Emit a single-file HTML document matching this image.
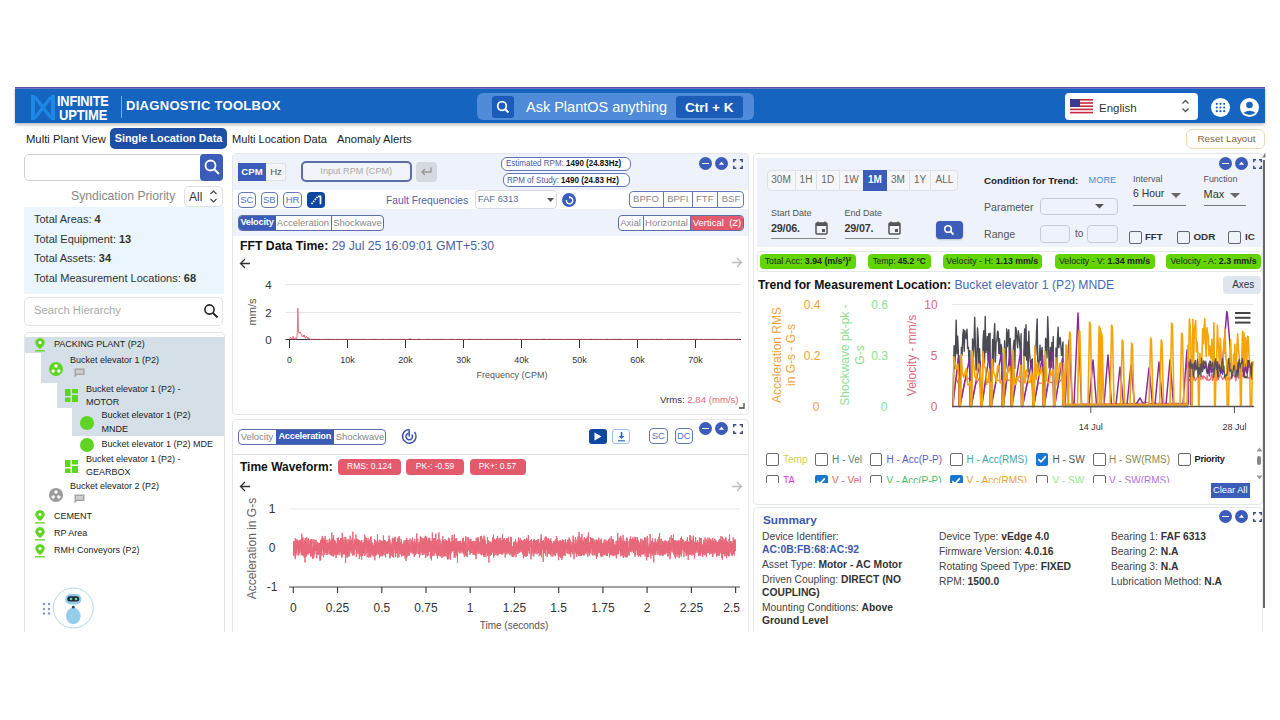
<!DOCTYPE html>
<html><head><meta charset="utf-8">
<style>

*{box-sizing:border-box;margin:0;padding:0}
html,body{width:1280px;height:720px;overflow:hidden;background:#fff}
body{font-family:"Liberation Sans",sans-serif;color:#222;position:relative}
.a{position:absolute}
.t{position:absolute;white-space:nowrap;line-height:1}
/* header */
#hdr{left:15px;top:87px;width:1250px;height:36px;background:#1565c0;border-top:1px solid #5a4f9e;box-shadow:0 2px 3px rgba(0,0,0,.25)}
.bold{font-weight:bold}
.pnl{position:absolute;background:#fff;border:1px solid #e3e6ea;border-radius:4px}
.btn{position:absolute;display:flex;align-items:center;justify-content:center;white-space:nowrap;line-height:1}
.circ{position:absolute;width:13px;height:13px;border-radius:50%;background:#3b5cb8}

</style></head>
<body>
<!-- HEADER -->
<div id="hdr" class="a">
  <div class="a" style="left:0;top:0;width:1250px;height:1px;background:#6c74c4"></div>
  <svg class="a" style="left:15px;top:6px" width="26" height="27" viewBox="0 0 26 27">
    <g fill="none" stroke="#1e88e5" stroke-width="4">
      <path d="M3 1 V26 M23 1 V26"/>
      <path d="M5 3 L21 24 M21 3 L5 24" stroke-width="3.2"/>
    </g>
  </svg>
  <div class="t bold" style="left:42px;top:4.5px;font-size:15.5px;color:#fff;transform:scaleX(.82);transform-origin:0 0;letter-spacing:-.2px">INFINITE</div>
  <div class="t bold" style="left:44px;top:18.5px;font-size:15.5px;color:#fff;transform:scaleX(.84);transform-origin:0 0;letter-spacing:-.2px">UPTIME</div>
  <div class="a" style="left:106px;top:8px;width:1px;height:22px;background:#64b5f6"></div>
  <div class="t bold" style="left:111px;top:11px;font-size:13px;color:#fff;letter-spacing:.3px">DIAGNOSTIC TOOLBOX</div>
  <div class="a" style="left:462px;top:5px;width:277px;height:27px;background:#4f8bd8;border-radius:6px"></div>
  <div class="a" style="left:477px;top:8px;width:22px;height:22px;background:#1a5cb8;border-radius:3px"></div>
  <svg class="a" style="left:481px;top:12px" width="14" height="14" viewBox="0 0 14 14"><circle cx="6" cy="6" r="4.3" fill="none" stroke="#fff" stroke-width="1.8"/><path d="M9.2 9.2 L12.5 12.5" stroke="#fff" stroke-width="2"/></svg>
  <div class="t" style="left:511px;top:12px;font-size:14.5px;color:#fff">Ask PlantOS anything</div>
  <div class="a" style="left:661px;top:8px;width:67px;height:22px;background:#1a5cb8;border-radius:3px"></div>
  <div class="t bold" style="left:670px;top:12.5px;font-size:13.5px;color:#fff">Ctrl + K</div>
  <div class="a" style="left:1050px;top:5px;width:133px;height:27px;background:#fff;border-radius:4px"></div>
  <svg class="a" style="left:1055px;top:11px" width="23" height="15" viewBox="0 0 23 15">
    <rect width="23" height="15" fill="#fff"/>
    <g fill="#c62a3c"><rect y="0" width="23" height="1.6"/><rect y="3.2" width="23" height="1.6"/><rect y="6.4" width="23" height="1.6"/><rect y="9.6" width="23" height="1.6"/><rect y="12.8" width="23" height="1.6"/></g>
    <rect width="10" height="8" fill="#3c3b8e"/>
  </svg>
  <div class="t" style="left:1084px;top:14.5px;font-size:11.5px;color:#333">English</div>
  <svg class="a" style="left:1166px;top:10px" width="9" height="16" viewBox="0 0 9 16"><path d="M1.5 5.5 L4.5 2.5 L7.5 5.5 M1.5 10.5 L4.5 13.5 L7.5 10.5" fill="none" stroke="#555" stroke-width="1.3"/></svg>
  <div class="a" style="left:1196px;top:10px;width:19px;height:19px;border-radius:50%;background:#fff"></div>
  <svg class="a" style="left:1200px;top:14px" width="11" height="11" viewBox="0 0 11 11"><g fill="#1565c0"><circle cx="1.8" cy="1.8" r="1.1"/><circle cx="5.5" cy="1.8" r="1.1"/><circle cx="9.2" cy="1.8" r="1.1"/><circle cx="1.8" cy="5.5" r="1.1"/><circle cx="5.5" cy="5.5" r="1.1"/><circle cx="9.2" cy="5.5" r="1.1"/><circle cx="1.8" cy="9.2" r="1.1"/><circle cx="5.5" cy="9.2" r="1.1"/><circle cx="9.2" cy="9.2" r="1.1"/></g></svg>
  <svg class="a" style="left:1225px;top:10px" width="19" height="19" viewBox="0 0 19 19"><circle cx="9.5" cy="9.5" r="9.5" fill="#fff"/><circle cx="9.5" cy="7" r="3.3" fill="#1565c0"/><path d="M3.5 14.8 Q9.5 10.5 15.5 14.8 Q9.5 19 3.5 14.8Z" fill="#1565c0"/></svg>
</div>

<!-- NAV -->
<div class="t" style="left:26px;top:133.5px;font-size:11.25px;color:#222">Multi Plant View</div>
<div class="btn" style="left:110px;top:128px;width:117px;height:21px;background:#1e4fa6;border-radius:5px;color:#fff;font-size:10.9px;font-weight:bold">Single Location Data</div>
<div class="t" style="left:232px;top:133.5px;font-size:11.1px;color:#222">Multi Location Data</div>
<div class="t" style="left:337px;top:133.5px;font-size:11.2px;color:#222">Anomaly Alerts</div>
<div class="btn" style="left:1186px;top:129px;width:79px;height:20px;border:1px solid #f0d9b5;border-radius:6px;color:#8a6a3a;font-size:9.9px;padding-left:2px">Reset Layout</div>


<!-- LEFT PANEL -->
<div class="a" style="left:24px;top:154px;width:190px;height:27px;border:1px solid #cfd3d8;border-radius:5px;background:#fff"></div>
<div class="a" style="left:200px;top:154px;width:23px;height:27px;background:#3b5cb8;border-radius:4px"></div>
<svg class="a" style="left:203px;top:158px" width="18" height="18" viewBox="0 0 18 18"><circle cx="7.5" cy="7.5" r="5" fill="none" stroke="#fff" stroke-width="1.8"/><path d="M11.2 11.2 L16 16" stroke="#fff" stroke-width="2"/></svg>
<div class="t" style="left:71px;top:190px;font-size:12.2px;color:#888">Syndication Priority</div>
<div class="a" style="left:184px;top:186px;width:39px;height:21px;border:1px solid #e0e0e0;border-radius:5px;background:#fff;box-shadow:0 1px 1px rgba(0,0,0,.05)"></div>
<div class="t" style="left:189px;top:191px;font-size:12px;color:#333">All</div>
<svg class="a" style="left:209px;top:188px" width="9" height="17" viewBox="0 0 9 17"><path d="M1.5 6 L4.5 3 L7.5 6 M1.5 11 L4.5 14 L7.5 11" fill="none" stroke="#444" stroke-width="1.2"/></svg>

<div class="a" style="left:24px;top:207px;width:200px;height:87px;background:#eaf5fc"></div>
<div class="t" style="left:34px;top:214px;font-size:11px;color:#333">Total Areas: <b>4</b></div>
<div class="t" style="left:34px;top:233.5px;font-size:11px;color:#333">Total Equipment: <b>13</b></div>
<div class="t" style="left:34px;top:253px;font-size:11px;color:#333">Total Assets: <b>34</b></div>
<div class="t" style="left:34px;top:272.5px;font-size:11px;color:#333">Total Measurement Locations: <b>68</b></div>

<div class="a" style="left:24px;top:297px;width:199px;height:29px;border:1px solid #e2e4e8;border-radius:5px;background:#fff"></div>
<div class="t" style="left:34px;top:305px;font-size:11.25px;color:#aaa">Search Hierarchy</div>
<svg class="a" style="left:203px;top:303px" width="16" height="16" viewBox="0 0 16 16"><circle cx="6.5" cy="6.5" r="4.6" fill="none" stroke="#222" stroke-width="1.6"/><path d="M10 10 L14.5 14.5" stroke="#222" stroke-width="1.8"/></svg>

<div class="a" style="left:24px;top:332px;width:201px;height:320px;border:1px solid #e2e4e8;border-radius:5px;background:#fff"></div>
<div class="a" style="left:25px;top:337px;width:199px;height:15.5px;background:#d5dfe8"></div>
<div class="a" style="left:41px;top:352.5px;width:183px;height:30px;background:#d5dfe8"></div>
<div class="a" style="left:56.5px;top:382.5px;width:167.5px;height:25.5px;background:#d5dfe8"></div>
<div class="a" style="left:72px;top:408px;width:152px;height:27.5px;background:#d5dfe8"></div>

<!-- pins -->
<svg class="a" style="left:34px;top:337px" width="12" height="15" viewBox="0 0 12 15"><path d="M6 1 C3 1 1.3 3.2 1.3 5.5 C1.3 8.5 6 12 6 12 C6 12 10.7 8.5 10.7 5.5 C10.7 3.2 9 1 6 1Z" fill="#5fd422"/><circle cx="6" cy="5.5" r="1.6" fill="#fff"/><rect x="1" y="13.2" width="10" height="1.3" fill="#5fd422"/></svg>
<svg class="a" style="left:34px;top:509px" width="12" height="15" viewBox="0 0 12 15"><path d="M6 1 C3 1 1.3 3.2 1.3 5.5 C1.3 8.5 6 12 6 12 C6 12 10.7 8.5 10.7 5.5 C10.7 3.2 9 1 6 1Z" fill="#5fd422"/><circle cx="6" cy="5.5" r="1.6" fill="#fff"/><rect x="1" y="13.2" width="10" height="1.3" fill="#5fd422"/></svg>
<svg class="a" style="left:34px;top:526px" width="12" height="15" viewBox="0 0 12 15"><path d="M6 1 C3 1 1.3 3.2 1.3 5.5 C1.3 8.5 6 12 6 12 C6 12 10.7 8.5 10.7 5.5 C10.7 3.2 9 1 6 1Z" fill="#5fd422"/><circle cx="6" cy="5.5" r="1.6" fill="#fff"/><rect x="1" y="13.2" width="10" height="1.3" fill="#5fd422"/></svg>
<svg class="a" style="left:34px;top:543px" width="12" height="15" viewBox="0 0 12 15"><path d="M6 1 C3 1 1.3 3.2 1.3 5.5 C1.3 8.5 6 12 6 12 C6 12 10.7 8.5 10.7 5.5 C10.7 3.2 9 1 6 1Z" fill="#5fd422"/><circle cx="6" cy="5.5" r="1.6" fill="#fff"/><rect x="1" y="13.2" width="10" height="1.3" fill="#5fd422"/></svg>

<div class="t" style="left:54px;top:340px;font-size:9px;color:#222">PACKING PLANT (P2)</div>
<!-- equipment icon -->
<svg class="a" style="left:48.5px;top:361.5px" width="14" height="14" viewBox="0 0 14 14"><circle cx="7" cy="7" r="7" fill="#5fd422"/><g fill="#fff"><circle cx="7" cy="4" r="1.7"/><circle cx="4.2" cy="9" r="1.7"/><circle cx="9.8" cy="9" r="1.7"/></g></svg>
<div class="t" style="left:70px;top:355.5px;font-size:9px;color:#222">Bucket elevator 1 (P2)</div>
<svg class="a" style="left:74px;top:368px" width="11" height="10" viewBox="0 0 11 10"><path d="M0.5 0.5 H10.5 V7 H3 L0.5 9.5Z" fill="#a6a6a6"/><rect x="2" y="2" width="7" height="3.5" fill="#cfcfcf"/></svg>

<svg class="a" style="left:65px;top:389px" width="13" height="13" viewBox="0 0 13 13"><g fill="#5fd422"><rect x="0" y="0" width="5.5" height="7"/><rect x="7" y="0" width="6" height="4.5"/><rect x="0" y="8.5" width="5.5" height="4.5"/><rect x="7" y="6" width="6" height="7"/></g></svg>
<div class="t" style="left:86px;top:385px;font-size:9px;color:#222">Bucket elevator 1 (P2) -</div>
<div class="t" style="left:86px;top:397.5px;font-size:9px;color:#222">MOTOR</div>

<div class="a" style="left:80px;top:416px;width:14px;height:14px;border-radius:50%;background:#5fd422"></div>
<div class="t" style="left:101.5px;top:411px;font-size:9px;color:#222">Bucket elevator 1 (P2)</div>
<div class="t" style="left:101.5px;top:424.5px;font-size:9px;color:#222">MNDE</div>

<div class="a" style="left:80px;top:437.5px;width:14px;height:14px;border-radius:50%;background:#5fd422"></div>
<div class="t" style="left:101.5px;top:440px;font-size:9px;color:#222">Bucket elevator 1 (P2) MDE</div>

<svg class="a" style="left:65px;top:460px" width="13" height="13" viewBox="0 0 13 13"><g fill="#5fd422"><rect x="0" y="0" width="5.5" height="7"/><rect x="7" y="0" width="6" height="4.5"/><rect x="0" y="8.5" width="5.5" height="4.5"/><rect x="7" y="6" width="6" height="7"/></g></svg>
<div class="t" style="left:86px;top:454.5px;font-size:9px;color:#222">Bucket elevator 1 (P2) -</div>
<div class="t" style="left:86px;top:467.5px;font-size:9px;color:#222">GEARBOX</div>

<svg class="a" style="left:48.5px;top:487.5px" width="14" height="14" viewBox="0 0 14 14"><circle cx="7" cy="7" r="7" fill="#9a9a9a"/><g fill="#fff"><circle cx="7" cy="4" r="1.7"/><circle cx="4.2" cy="9" r="1.7"/><circle cx="9.8" cy="9" r="1.7"/></g></svg>
<div class="t" style="left:70px;top:481.5px;font-size:9px;color:#222">Bucket elevator 2 (P2)</div>
<svg class="a" style="left:74px;top:494px" width="11" height="10" viewBox="0 0 11 10"><path d="M0.5 0.5 H10.5 V7 H3 L0.5 9.5Z" fill="#a6a6a6"/><rect x="2" y="2" width="7" height="3.5" fill="#cfcfcf"/></svg>

<div class="t" style="left:54px;top:512px;font-size:9px;color:#222">CEMENT</div>
<div class="t" style="left:54px;top:529px;font-size:9px;color:#222">RP Area</div>
<div class="t" style="left:54px;top:545.5px;font-size:9px;color:#222">RMH Conveyors (P2)</div>

<!-- robot -->
<svg class="a" style="left:40px;top:600px" width="12" height="17" viewBox="0 0 12 17"><g fill="#8a98bc"><circle cx="4" cy="4" r="1.25"/><circle cx="9" cy="4" r="1.25"/><circle cx="4" cy="9" r="1.25"/><circle cx="9" cy="9" r="1.25"/><circle cx="4" cy="13.5" r="1.25"/><circle cx="9" cy="13.5" r="1.25"/></g></svg>
<svg class="a" style="left:52px;top:587px" width="42" height="42" viewBox="0 0 42 42"><circle cx="21.3" cy="21" r="20" fill="#fff" stroke="#a8d4e0" stroke-width="0.9"/>
<ellipse cx="21.3" cy="29" rx="7.3" ry="8.3" fill="#94ccec"/>
<rect x="13.3" y="7" width="16" height="10.5" rx="5" fill="#94ccec"/>
<rect x="15.3" y="9.3" width="12" height="5.2" rx="2.5" fill="#1f2a36"/>
<circle cx="19" cy="12" r="1.3" fill="#5fe0a0"/><circle cx="24" cy="12" r="1.3" fill="#5fe0a0"/>
<circle cx="21.3" cy="20.2" r="1.4" fill="#2b4a58"/>
</svg>

<!-- MIDDLE PANEL 1 -->
<div class="a" style="left:232px;top:153px;width:517px;height:262px;border:1px solid #e3e6ea;border-radius:4px;background:#fff"></div>
<div class="a" style="left:233px;top:154px;width:515px;height:36px;background:#eef2fa"></div>
<div class="a" style="left:233px;top:209px;width:515px;height:26.5px;background:#eef2fa"></div>
<!-- CPM/Hz -->
<div class="a" style="left:238px;top:163px;width:48px;height:18px;border:1px solid #dfe2e8;background:#f3f4f6"></div>
<div class="btn" style="left:238px;top:163px;width:28px;height:18px;background:#3b5cb8;color:#fff;font-size:9.6px;font-weight:bold">CPM</div>
<div class="btn" style="left:266px;top:163px;width:20px;height:18px;color:#555;font-size:9.6px">Hz</div>
<div class="btn" style="left:300.5px;top:161px;width:111.5px;height:21px;border:2px solid #5d6ea6;border-radius:5px;background:#f1f4fb;color:#aaa;font-size:9.1px">Input RPM (CPM)</div>
<div class="a" style="left:416px;top:161.5px;width:21px;height:20.5px;background:#d6d9df;border-radius:4px"></div>
<svg class="a" style="left:420px;top:166px" width="13" height="11" viewBox="0 0 13 11"><path d="M11 1.5 V6 H2.5 M5 3 L2 6 L5 9" fill="none" stroke="#999" stroke-width="1.4"/></svg>
<div class="t" style="left:501px;top:156.5px;width:130px;height:14px;border:1.5px solid #6474b8;border-radius:6px;background:#fff"></div>
<div class="t" style="left:506px;top:159px;font-size:9px;color:#4a5a9a;transform:scaleX(.889);transform-origin:0 0">Estimated RPM: <b style="color:#111">1490 (24.83Hz)</b></div>
<div class="t" style="left:502.5px;top:173px;width:127px;height:13.5px;border:1.5px solid #6474b8;border-radius:6px;background:#fff"></div>
<div class="t" style="left:507px;top:175.5px;font-size:9px;color:#4a5a9a;transform:scaleX(.894);transform-origin:0 0">RPM of Study: <b style="color:#111">1490 (24.83 Hz)</b></div>
<div class="circ" style="left:698.5px;top:157px"></div>
<div class="a" style="left:701.5px;top:162.7px;width:7px;height:1.8px;background:#fff"></div>
<div class="circ" style="left:715px;top:157px"></div>
<svg class="a" style="left:718px;top:160px" width="7" height="7" viewBox="0 0 7 7"><path d="M0.8 4.8 L3.5 1.8 L6.2 4.8Z" fill="#fff"/></svg>
<svg class="a" style="left:732.5px;top:159.2px" width="10" height="10" viewBox="0 0 10 10"><path d="M0.8 3.3 V0.8 H3.3 M6.7 0.8 H9.2 V3.3 M9.2 6.7 V9.2 H6.7 M3.3 9.2 H0.8 V6.7" fill="none" stroke="#3b4a7a" stroke-width="1.5"/></svg>

<!-- row2 -->
<div class="btn" style="left:237.5px;top:191.5px;width:18.5px;height:16px;border:1px solid #6478b8;border-radius:4px;color:#4a78c8;font-size:9.5px;background:#fff">SC</div>
<div class="btn" style="left:260.5px;top:191.5px;width:17.5px;height:16px;border:1px solid #6478b8;border-radius:4px;color:#4a78c8;font-size:9.5px;background:#fff">SB</div>
<div class="btn" style="left:283px;top:191.5px;width:19px;height:16px;border:1px solid #6478b8;border-radius:4px;color:#4a78c8;font-size:9.5px;background:#fff">HR</div>
<div class="a" style="left:307px;top:191.5px;width:18px;height:16px;border-radius:4px;background:#0d47a1"></div>
<svg class="a" style="left:307px;top:191.5px" width="18" height="16" viewBox="0 0 18 16"><path d="M4.5 12 L11 4.3" fill="none" stroke="#fff" stroke-width="1.7" stroke-dasharray="1.6 1"/><path d="M11 4.3 H13.5 V12.3" fill="none" stroke="#fff" stroke-width="1.7"/></svg>
<div class="t" style="left:386px;top:195.5px;font-size:10.25px;color:#5262a8">Fault Frequencies</div>
<div class="a" style="left:474.5px;top:190px;width:82.5px;height:18.5px;border:1px solid #d8dbe0;border-radius:4px;background:#fff"></div>
<div class="t" style="left:478px;top:194.5px;font-size:9.3px;color:#5a6a90">FAF 6313</div>
<svg class="a" style="left:546.5px;top:198px" width="7" height="4" viewBox="0 0 7 4"><path d="M0 0 H7 L3.5 4Z" fill="#555"/></svg>
<div class="circ" style="left:562px;top:193px;width:14px;height:14px"></div>
<svg class="a" style="left:564.5px;top:195.5px" width="9" height="9" viewBox="0 0 9 9"><path d="M4.5 1.3 A3.2 3.2 0 1 1 1.4 4" fill="none" stroke="#fff" stroke-width="1.4"/><path d="M4 0 L6 1.4 L4 2.8Z" fill="#fff"/></svg>
<div class="a" style="left:628.5px;top:191px;width:115.5px;height:16.5px;border:1px solid #6478b8;border-radius:4px;background:#fff"></div>
<div class="a" style="left:663px;top:191px;width:1px;height:16.5px;background:#6478b8"></div>
<div class="a" style="left:691.5px;top:191px;width:1px;height:16.5px;background:#6478b8"></div>
<div class="a" style="left:717px;top:191px;width:1px;height:16.5px;background:#6478b8"></div>
<div class="btn" style="left:629px;top:190px;width:34px;height:16.5px;color:#888;font-size:9.5px">BPFO</div>
<div class="btn" style="left:664px;top:190px;width:27.5px;height:16.5px;color:#888;font-size:9.5px">BPFI</div>
<div class="btn" style="left:692.5px;top:190px;width:24.5px;height:16.5px;color:#888;font-size:9.5px">FTF</div>
<div class="btn" style="left:718px;top:190px;width:26px;height:16.5px;color:#888;font-size:9.5px">BSF</div>

<!-- row3 -->
<div class="a" style="left:237.5px;top:214.5px;width:146px;height:16px;border:1px solid #5d6ea6;border-radius:4px;background:#fff;overflow:hidden">
  <div class="btn" style="left:0;top:0;width:37px;height:14px;background:#3b5cb8;color:#fff;font-size:9.2px;font-weight:bold;letter-spacing:-.2px">Velocity</div>
  <div class="btn" style="left:37px;top:0;width:56px;height:14px;color:#888;font-size:9.5px;border-right:1px solid #5d6ea6">Acceleration</div>
  <div class="btn" style="left:93px;top:0;width:52px;height:14px;color:#888;font-size:9.5px">Shockwave</div>
</div>
<div class="a" style="left:617.5px;top:214.5px;width:126.5px;height:16px;border:1px solid #5d6ea6;border-radius:4px;background:#fff;overflow:hidden">
  <div class="btn" style="left:0;top:0;width:25px;height:14px;color:#888;font-size:9.5px;border-right:1px solid #5d6ea6">Axial</div>
  <div class="btn" style="left:25px;top:0;width:47px;height:14px;color:#888;font-size:9.5px;border-right:1px solid #5d6ea6">Horizontal</div>
  <div class="btn" style="left:72px;top:0;width:53px;height:14px;background:#e25a6b;color:#fff;font-size:9.5px;white-space:pre">Vertical  (Z)</div>
</div>

<div class="t" style="left:240px;top:240px;font-size:12.25px;color:#111"><b>FFT Data Time:</b> <span style="color:#4a5fa8">29 Jul 25 16:09:01 GMT+5:30</span></div>
<svg class="a" style="left:239px;top:258px" width="12" height="11" viewBox="0 0 12 11"><path d="M11 5.5 H1.5 M6 1 L1.5 5.5 L6 10" fill="none" stroke="#333" stroke-width="1.3"/></svg>
<svg class="a" style="left:731px;top:257px" width="12" height="11" viewBox="0 0 12 11"><path d="M1 5.5 H10.5 M6 1 L10.5 5.5 L6 10" fill="none" stroke="#bbb" stroke-width="1.3"/></svg>
<svg class="a" style="left:233px;top:270px" width="515" height="140" viewBox="233 270 515 140"><line x1="285.5" y1="284.5" x2="741" y2="284.5" stroke="#e6e6e6" stroke-width="1"/><line x1="285.5" y1="312.5" x2="741" y2="312.5" stroke="#e6e6e6" stroke-width="1"/><line x1="285.5" y1="339.5" x2="741" y2="339.5" stroke="#333" stroke-width="1"/><line x1="289.5" y1="339.5" x2="289.5" y2="348" stroke="#333" stroke-width="1"/><text x="289.5" y="362.8" font-size="9" fill="#333" text-anchor="middle" font-family="Liberation Sans">0</text><line x1="347.5" y1="339.5" x2="347.5" y2="348" stroke="#333" stroke-width="1"/><text x="347.5" y="362.8" font-size="9" fill="#333" text-anchor="middle" font-family="Liberation Sans">10k</text><line x1="405.5" y1="339.5" x2="405.5" y2="348" stroke="#333" stroke-width="1"/><text x="405.5" y="362.8" font-size="9" fill="#333" text-anchor="middle" font-family="Liberation Sans">20k</text><line x1="463.5" y1="339.5" x2="463.5" y2="348" stroke="#333" stroke-width="1"/><text x="463.5" y="362.8" font-size="9" fill="#333" text-anchor="middle" font-family="Liberation Sans">30k</text><line x1="521.5" y1="339.5" x2="521.5" y2="348" stroke="#333" stroke-width="1"/><text x="521.5" y="362.8" font-size="9" fill="#333" text-anchor="middle" font-family="Liberation Sans">40k</text><line x1="579.5" y1="339.5" x2="579.5" y2="348" stroke="#333" stroke-width="1"/><text x="579.5" y="362.8" font-size="9" fill="#333" text-anchor="middle" font-family="Liberation Sans">50k</text><line x1="637.5" y1="339.5" x2="637.5" y2="348" stroke="#333" stroke-width="1"/><text x="637.5" y="362.8" font-size="9" fill="#333" text-anchor="middle" font-family="Liberation Sans">60k</text><line x1="695.5" y1="339.5" x2="695.5" y2="348" stroke="#333" stroke-width="1"/><text x="695.5" y="362.8" font-size="9" fill="#333" text-anchor="middle" font-family="Liberation Sans">70k</text><text x="268.5" y="288.7" font-size="11.5" fill="#333" text-anchor="middle" font-family="Liberation Sans">4</text><text x="268.5" y="316.7" font-size="11.5" fill="#333" text-anchor="middle" font-family="Liberation Sans">2</text><text x="268.5" y="343.7" font-size="11.5" fill="#333" text-anchor="middle" font-family="Liberation Sans">0</text><text x="0" y="0" font-size="11" fill="#555" text-anchor="middle" font-family="Liberation Sans" transform="translate(255.5,312) rotate(-90)">mm/s</text><text x="512" y="377.5" font-size="9" fill="#555" text-anchor="middle" font-family="Liberation Sans">Frequency (CPM)</text><polyline points="289.5,339.3 290.1,337.4 290.7,337.9 291.3,337.8 291.9,339.1 292.5,339.1 293.1,336.3 293.7,339.2 294.3,339.4 294.9,338.3 295.5,337.6 296.1,339.4 296.7,338.5 297.3,332.6 297.9,308.2 298.5,332.6 299.1,333.4 299.7,332.1 300.3,332.0 300.9,333.0 301.5,335.2 302.1,336.8 302.7,335.8 303.3,335.0 303.9,337.0 304.5,334.9 305.1,338.2 305.7,337.9 306.3,336.2 306.9,337.5 307.5,337.3 308.1,339.4 308.7,337.6 309.3,338.4 309.9,339.3 310.5,339.4 311.1,339.3 311.7,339.4 312.3,339.3 312.9,339.5 313.5,339.4 314.1,339.3 314.7,339.2 315.3,339.4 315.9,339.3 316.5,339.4 317.1,339.4 317.7,339.2 318.3,339.4 318.9,339.4 319.5,339.2 320.1,339.4 320.7,339.4 321.3,339.5 321.9,339.5 322.5,339.4 323.1,339.4 323.7,339.4 324.3,339.5 324.9,339.2 325.5,339.3 326.1,339.4 326.7,339.3 327.3,339.4 327.9,339.4 328.5,339.2 329.1,339.3 329.7,339.5 330.3,339.4 330.9,339.5 331.5,339.3 332.1,339.4 332.7,339.4 333.3,339.5 333.9,339.3 334.5,339.4 335.1,339.5 335.7,339.5 336.3,339.4 336.9,339.4 337.5,339.2 338.1,339.4 338.7,339.4 339.3,339.4 339.9,339.3 340.5,339.5 341.1,339.4 341.7,339.4 342.3,339.3 342.9,339.3 343.5,339.4 344.1,339.5 344.7,339.5 345.3,339.4 345.9,339.4 346.5,339.1 347.1,339.3 347.7,339.5 348.3,339.4 348.9,339.5 349.5,339.5 350.1,339.5 350.7,339.4 351.3,339.4 351.9,339.3 352.5,339.4 353.1,339.3 353.7,339.5 354.3,339.4 354.9,339.3 355.5,339.5 356.1,339.5 356.7,339.3 357.3,339.4 357.9,339.4 358.5,339.5 359.1,339.3 359.7,339.4 360.3,339.4 360.9,339.4 361.5,339.4 362.1,339.4 362.7,339.4 363.3,339.4 363.9,339.3 364.5,339.3 365.1,339.3 365.7,339.5 366.3,339.5 366.9,339.4 367.5,339.5 368.1,339.3 368.7,339.5 369.3,339.4 369.9,339.3 370.5,339.4 371.1,339.4 371.7,339.4 372.3,339.4 372.9,339.3 373.5,339.2 374.1,339.4 374.7,339.4 375.3,339.4 375.9,339.3 376.5,339.3 377.1,339.4 377.7,339.5 378.3,339.4 378.9,339.4 379.5,339.4 380.1,339.3 380.7,339.5 381.3,339.4 381.9,339.5 382.5,339.3 383.1,339.3 383.7,339.3 384.3,339.5 384.9,339.4 385.5,339.4 386.1,339.3 386.7,339.5 387.3,339.4 387.9,339.4 388.5,339.4 389.1,339.2 389.7,339.3 390.3,339.5 390.9,339.5 391.5,339.2 392.1,339.4 392.7,339.4 393.3,339.5 393.9,339.2 394.5,339.4 395.1,339.5 395.7,339.3 396.3,339.4 396.9,339.3 397.5,339.4 398.1,339.5 398.7,339.4 399.3,339.4 399.9,339.3 400.5,339.4 401.1,339.4 401.7,339.3 402.3,339.2 402.9,339.4 403.5,339.4 404.1,339.2 404.7,339.3 405.3,339.3 405.9,339.5 406.5,339.5 407.1,339.5 407.7,339.4 408.3,339.4 408.9,339.3 409.5,339.4 410.1,338.1 410.7,339.3 411.3,339.4 411.9,339.4 412.5,339.4 413.1,339.4 413.7,339.4 414.3,339.5 414.9,339.4 415.5,339.4 416.1,339.3 416.7,339.5 417.3,339.4 417.9,339.4 418.5,339.2 419.1,339.4 419.7,339.3 420.3,339.3 420.9,339.5 421.5,339.5 422.1,339.5 422.7,339.5 423.3,339.4 423.9,339.4 424.5,339.5 425.1,339.3 425.7,339.5 426.3,339.5 426.9,339.5 427.5,339.4 428.1,339.4 428.7,339.2 429.3,339.3 429.9,339.5 430.5,339.5 431.1,339.4 431.7,339.5 432.3,339.4 432.9,339.4 433.5,339.4 434.1,339.4 434.7,339.4 435.3,339.4 435.9,339.5 436.5,339.4 437.1,339.3 437.7,339.4 438.3,339.5 438.9,339.5 439.5,339.4 440.1,339.4 440.7,339.3 441.3,339.4 441.9,339.3 442.5,339.3 443.1,339.4 443.7,339.4 444.3,339.4 444.9,339.4 445.5,339.5 446.1,339.4 446.7,339.4 447.3,339.4 447.9,339.5 448.5,339.3 449.1,339.5 449.7,339.4 450.3,339.4 450.9,339.4 451.5,339.3 452.1,339.3 452.7,339.3 453.3,339.3 453.9,339.5 454.5,339.4 455.1,339.4 455.7,339.5 456.3,339.4 456.9,339.3 457.5,339.3 458.1,339.3 458.7,339.4 459.3,339.3 459.9,339.4 460.5,339.5 461.1,339.5 461.7,339.5 462.3,339.4 462.9,339.3 463.5,339.4 464.1,339.5 464.7,339.3 465.3,339.3 465.9,339.5 466.5,339.5 467.1,339.5 467.7,339.4 468.3,339.4 468.9,339.3 469.5,339.3 470.1,339.2 470.7,339.3 471.3,339.4 471.9,339.3 472.5,339.4 473.1,339.3 473.7,339.5 474.3,339.3 474.9,339.4 475.5,339.5 476.1,339.5 476.7,339.4 477.3,339.3 477.9,339.5 478.5,339.4 479.1,339.5 479.7,339.4 480.3,339.3 480.9,339.3 481.5,339.4 482.1,339.4 482.7,339.4 483.3,339.4 483.9,339.4 484.5,339.5 485.1,339.1 485.7,339.5 486.3,339.3 486.9,339.4 487.5,339.4 488.1,339.3 488.7,339.5 489.3,339.3 489.9,339.3 490.5,339.5 491.1,339.3 491.7,339.3 492.3,339.5 492.9,339.4 493.5,339.5 494.1,339.2 494.7,339.4 495.3,339.5 495.9,339.5 496.5,339.4 497.1,339.5 497.7,339.4 498.3,339.4 498.9,339.4 499.5,339.5 500.1,339.3 500.7,339.4 501.3,339.5 501.9,339.5 502.5,339.4 503.1,339.4 503.7,339.4 504.3,339.5 504.9,339.4 505.5,339.3 506.1,339.5 506.7,339.4 507.3,339.4 507.9,339.4 508.5,339.4 509.1,339.5 509.7,339.4 510.3,339.3 510.9,339.5 511.5,339.4 512.1,339.4 512.7,339.4 513.3,339.3 513.9,339.4 514.5,339.4 515.1,339.4 515.7,339.2 516.3,339.3 516.9,339.4 517.5,339.3 518.1,339.5 518.7,339.5 519.3,339.4 519.9,339.5 520.5,339.3 521.1,339.2 521.7,339.4 522.3,339.5 522.9,339.4 523.5,339.5 524.1,339.4 524.7,339.4 525.3,339.2 525.9,339.4 526.5,339.4 527.1,339.4 527.7,339.4 528.3,339.3 528.9,339.4 529.5,339.4 530.1,339.5 530.7,339.4 531.3,339.4 531.9,339.4 532.5,339.4 533.1,339.5 533.7,339.5 534.3,339.4 534.9,339.4 535.5,339.4 536.1,339.5 536.7,339.2 537.3,339.3 537.9,339.4 538.5,339.4 539.1,339.4 539.7,339.4 540.3,339.5 540.9,339.4 541.5,339.3 542.1,339.3 542.7,339.2 543.3,339.3 543.9,339.3 544.5,339.3 545.1,339.5 545.7,339.4 546.3,339.4 546.9,339.3 547.5,339.5 548.1,339.4 548.7,339.5 549.3,339.1 549.9,339.4 550.5,339.3 551.1,339.4 551.7,339.4 552.3,339.4 552.9,339.3 553.5,339.4 554.1,339.3 554.7,339.4 555.3,339.3 555.9,339.4 556.5,339.4 557.1,339.3 557.7,339.4 558.3,339.3 558.9,339.3 559.5,339.4 560.1,339.4 560.7,339.5 561.3,339.3 561.9,339.3 562.5,339.4 563.1,339.4 563.7,339.5 564.3,339.5 564.9,339.5 565.5,339.5 566.1,339.3 566.7,339.3 567.3,339.4 567.9,339.4 568.5,339.4 569.1,339.3 569.7,339.3 570.3,339.3 570.9,339.5 571.5,339.5 572.1,339.3 572.7,339.4 573.3,339.4 573.9,339.4 574.5,339.4 575.1,339.5 575.7,339.4 576.3,339.5 576.9,339.4 577.5,339.5 578.1,339.4 578.7,339.3 579.3,339.3 579.9,339.5 580.5,339.4 581.1,339.4 581.7,339.4 582.3,339.5 582.9,339.2 583.5,339.5 584.1,339.3 584.7,339.4 585.3,339.4 585.9,339.4 586.5,339.3 587.1,339.4 587.7,339.5 588.3,339.5 588.9,339.3 589.5,339.3 590.1,339.5 590.7,339.2 591.3,339.3 591.9,339.4 592.5,339.4 593.1,339.3 593.7,339.4 594.3,339.3 594.9,339.5 595.5,339.4 596.1,339.2 596.7,339.3 597.3,339.5 597.9,339.5 598.5,339.5 599.1,339.5 599.7,339.3 600.3,339.3 600.9,339.5 601.5,339.4 602.1,339.5 602.7,339.5 603.3,339.5 603.9,339.3 604.5,339.5 605.1,339.3 605.7,339.4 606.3,339.2 606.9,339.4 607.5,339.3 608.1,339.3 608.7,339.5 609.3,339.5 609.9,339.4 610.5,339.4 611.1,339.3 611.7,339.4 612.3,339.4 612.9,339.4 613.5,339.4 614.1,339.3 614.7,339.3 615.3,339.3 615.9,339.2 616.5,339.3 617.1,339.5 617.7,339.3 618.3,339.4 618.9,339.3 619.5,339.2 620.1,339.4 620.7,339.3 621.3,339.4 621.9,339.4 622.5,339.5 623.1,339.4 623.7,339.5 624.3,339.5 624.9,339.4 625.5,339.3 626.1,339.5 626.7,339.4 627.3,339.5 627.9,339.4 628.5,339.4 629.1,339.3 629.7,339.4 630.3,339.4 630.9,339.4 631.5,339.3 632.1,339.4 632.7,339.4 633.3,339.4 633.9,339.3 634.5,339.5 635.1,339.5 635.7,339.5 636.3,339.4 636.9,339.3 637.5,339.4 638.1,339.4 638.7,339.5 639.3,339.4 639.9,339.4 640.5,339.4 641.1,339.5 641.7,339.5 642.3,339.4 642.9,339.4 643.5,339.5 644.1,339.5 644.7,339.3 645.3,339.5 645.9,339.3 646.5,339.4 647.1,339.4 647.7,339.5 648.3,339.5 648.9,339.5 649.5,339.4 650.1,339.5 650.7,339.4 651.3,339.4 651.9,339.4 652.5,339.3 653.1,339.5 653.7,339.4 654.3,339.3 654.9,339.4 655.5,339.5 656.1,339.3 656.7,339.2 657.3,339.4 657.9,339.5 658.5,339.4 659.1,339.5 659.7,339.2 660.3,339.4 660.9,339.4 661.5,339.3 662.1,339.4 662.7,339.3 663.3,339.5 663.9,339.5 664.5,339.5 665.1,339.4 665.7,339.5 666.3,339.5 666.9,339.5 667.5,339.3 668.1,339.3 668.7,339.4 669.3,339.1 669.9,339.3 670.5,339.5 671.1,339.2 671.7,339.3 672.3,339.4 672.9,339.5 673.5,339.2 674.1,339.3 674.7,339.4 675.3,339.4 675.9,339.5 676.5,339.4 677.1,339.4 677.7,339.4 678.3,339.4 678.9,339.2 679.5,339.4 680.1,339.3 680.7,339.5 681.3,339.2 681.9,339.2 682.5,339.4 683.1,339.4 683.7,339.4 684.3,339.5 684.9,339.3 685.5,339.4 686.1,339.5 686.7,339.4 687.3,339.3 687.9,339.3 688.5,339.4 689.1,339.4 689.7,339.4 690.3,339.4 690.9,339.3 691.5,339.3 692.1,339.5 692.7,339.5 693.3,339.3 693.9,339.4 694.5,339.4 695.1,339.4 695.7,339.3 696.3,339.3 696.9,339.3 697.5,339.2 698.1,339.4 698.7,339.5 699.3,339.4 699.9,339.5 700.5,339.5 701.1,339.2 701.7,339.3 702.3,339.4 702.9,339.4 703.5,339.5 704.1,339.5 704.7,339.4 705.3,339.4 705.9,339.4 706.5,339.5 707.1,339.4 707.7,339.4 708.3,339.4 708.9,339.5 709.5,339.4 710.1,339.5 710.7,339.4 711.3,339.4 711.9,339.5 712.5,339.3 713.1,339.5 713.7,339.3 714.3,339.5 714.9,339.4 715.5,339.3 716.1,339.4 716.7,339.5 717.3,339.5 717.9,339.4 718.5,339.5 719.1,339.5 719.7,339.5 720.3,339.4 720.9,339.5 721.5,339.4 722.1,339.3 722.7,339.4 723.3,339.3 723.9,339.4 724.5,339.4 725.1,339.4 725.7,339.4 726.3,339.3 726.9,339.3 727.5,339.3 728.1,339.4 728.7,339.5 729.3,339.3 729.9,339.3 730.5,339.4 731.1,339.4 731.7,339.4 732.3,339.4 732.9,339.5 733.5,339.3 734.1,339.4 734.7,339.3 735.3,339.4 735.9,339.4 736.5,339.4 737.1,339.2 737.7,339.1 738.3,339.4 738.9,339.4 739.5,339.4" fill="none" stroke="#e05a6e" stroke-width="1" opacity="0.85"/></svg>
<div class="t" style="left:660px;top:395px;font-size:9.6px;color:#333">Vrms: <span style="color:#e06a78">2.84 (mm/s)</span></div>
<svg class="a" style="left:739px;top:403px" width="6" height="6" viewBox="0 0 6 6"><path d="M5 0 V5 H0" fill="none" stroke="#444" stroke-width="1.3"/></svg>

<!-- MIDDLE PANEL 2 -->
<div class="a" style="left:232px;top:418.5px;width:517px;height:240px;border:1px solid #e3e6ea;border-radius:4px;background:#fff"></div>
<div class="a" style="left:233px;top:453.5px;width:515px;height:1px;background:#dcdfe4"></div>
<div class="a" style="left:237.5px;top:428.5px;width:148.5px;height:16px;border:1px solid #5d6ea6;border-radius:4px;background:#fff;overflow:hidden">
  <div class="btn" style="left:0;top:0;width:37px;height:14px;color:#888;font-size:9.5px">Velocity</div>
  <div class="btn" style="left:37px;top:0;width:58.5px;height:14px;background:#3b5cb8;color:#fff;font-size:9.2px;font-weight:bold;letter-spacing:-.2px">Acceleration</div>
  <div class="btn" style="left:95.5px;top:0;width:52px;height:14px;color:#888;font-size:9.5px">Shockwave</div>
</div>
<svg class="a" style="left:400.5px;top:427.5px" width="17" height="17" viewBox="0 0 17 17"><g fill="none" stroke="#3b4fb0" stroke-width="1.5"><path d="M8.2 1.6 A6.8 6.8 0 1 0 13.4 3.9"/><path d="M7.6 5.2 A3.3 3.3 0 1 0 10.8 6.4"/><path d="M8.2 1.5 V8.4"/></g></svg>
<div class="a" style="left:588.5px;top:429px;width:18.5px;height:14.5px;border-radius:3px;background:#0d47a1"></div>
<svg class="a" style="left:594px;top:432px" width="8" height="9" viewBox="0 0 8 9"><path d="M0.5 0.5 L7.5 4.5 L0.5 8.5Z" fill="#fff"/></svg>
<div class="a" style="left:612px;top:429px;width:18px;height:14.5px;border-radius:3px;border:1px solid #9ec0e8;background:#fff"></div>
<svg class="a" style="left:615.5px;top:431px" width="11" height="11" viewBox="0 0 11 11"><path d="M5.5 1 V6.5" stroke="#2a6ac8" stroke-width="1.6"/><path d="M2.5 5 L5.5 8 L8.5 5Z" fill="#2a6ac8"/><path d="M2 9.8 H9" stroke="#2a6ac8" stroke-width="1.2"/></svg>
<div class="btn" style="left:649px;top:428px;width:18.5px;height:16px;border:1px solid #6478b8;border-radius:4px;color:#4a78c8;font-size:9.5px;background:#fff">SC</div>
<div class="btn" style="left:674.5px;top:428px;width:18.5px;height:16px;border:1px solid #6478b8;border-radius:4px;color:#4a78c8;font-size:9.5px;background:#fff">DC</div>
<div class="circ" style="left:698.5px;top:422px"></div>
<div class="a" style="left:701.5px;top:427.7px;width:7px;height:1.8px;background:#fff"></div>
<div class="circ" style="left:715px;top:422px"></div>
<svg class="a" style="left:718px;top:425px" width="7" height="7" viewBox="0 0 7 7"><path d="M0.8 4.8 L3.5 1.8 L6.2 4.8Z" fill="#fff"/></svg>
<svg class="a" style="left:732.7px;top:423.7px" width="10" height="10" viewBox="0 0 10 10"><path d="M0.8 3.3 V0.8 H3.3 M6.7 0.8 H9.2 V3.3 M9.2 6.7 V9.2 H6.7 M3.3 9.2 H0.8 V6.7" fill="none" stroke="#3b4a7a" stroke-width="1.5"/></svg>

<div class="t" style="left:240px;top:461px;font-size:12px;color:#111;font-weight:bold">Time Waveform:</div>
<div class="btn" style="left:338px;top:458.5px;width:63px;height:16px;border-radius:4px;background:#e25a6b;color:#fff;font-size:8.5px">RMS: 0.124</div>
<div class="btn" style="left:406px;top:458.5px;width:58px;height:16px;border-radius:4px;background:#e25a6b;color:#fff;font-size:8.5px">PK-: -0.59</div>
<div class="btn" style="left:469.5px;top:458.5px;width:56px;height:16px;border-radius:4px;background:#e25a6b;color:#fff;font-size:8.5px">PK+: 0.57</div>
<svg class="a" style="left:239px;top:481px" width="12" height="11" viewBox="0 0 12 11"><path d="M11 5.5 H1.5 M6 1 L1.5 5.5 L6 10" fill="none" stroke="#333" stroke-width="1.3"/></svg>
<svg class="a" style="left:731px;top:481px" width="12" height="11" viewBox="0 0 12 11"><path d="M1 5.5 H10.5 M6 1 L10.5 5.5 L6 10" fill="none" stroke="#bbb" stroke-width="1.3"/></svg>
<svg class="a" style="left:233px;top:497.5px" width="515" height="134.5" viewBox="233 497.5 515 134.5"><line x1="289" y1="508.5" x2="740" y2="508.5" stroke="#e6e6e6" stroke-width="1"/><line x1="289" y1="586.5" x2="740" y2="586.5" stroke="#444" stroke-width="1.2"/><line x1="293.3" y1="586.5" x2="293.3" y2="592.5" stroke="#444" stroke-width="1.2"/><text x="293.3" y="611" font-size="12" fill="#333" text-anchor="middle" font-family="Liberation Sans">0</text><line x1="337.5" y1="586.5" x2="337.5" y2="592.5" stroke="#444" stroke-width="1.2"/><text x="337.5" y="611" font-size="12" fill="#333" text-anchor="middle" font-family="Liberation Sans">0.25</text><line x1="381.8" y1="586.5" x2="381.8" y2="592.5" stroke="#444" stroke-width="1.2"/><text x="381.8" y="611" font-size="12" fill="#333" text-anchor="middle" font-family="Liberation Sans">0.5</text><line x1="426.0" y1="586.5" x2="426.0" y2="592.5" stroke="#444" stroke-width="1.2"/><text x="426.0" y="611" font-size="12" fill="#333" text-anchor="middle" font-family="Liberation Sans">0.75</text><line x1="470.2" y1="586.5" x2="470.2" y2="592.5" stroke="#444" stroke-width="1.2"/><text x="470.2" y="611" font-size="12" fill="#333" text-anchor="middle" font-family="Liberation Sans">1</text><line x1="514.5" y1="586.5" x2="514.5" y2="592.5" stroke="#444" stroke-width="1.2"/><text x="514.5" y="611" font-size="12" fill="#333" text-anchor="middle" font-family="Liberation Sans">1.25</text><line x1="558.7" y1="586.5" x2="558.7" y2="592.5" stroke="#444" stroke-width="1.2"/><text x="558.7" y="611" font-size="12" fill="#333" text-anchor="middle" font-family="Liberation Sans">1.5</text><line x1="602.9" y1="586.5" x2="602.9" y2="592.5" stroke="#444" stroke-width="1.2"/><text x="602.9" y="611" font-size="12" fill="#333" text-anchor="middle" font-family="Liberation Sans">1.75</text><line x1="647.1" y1="586.5" x2="647.1" y2="592.5" stroke="#444" stroke-width="1.2"/><text x="647.1" y="611" font-size="12" fill="#333" text-anchor="middle" font-family="Liberation Sans">2</text><line x1="691.4" y1="586.5" x2="691.4" y2="592.5" stroke="#444" stroke-width="1.2"/><text x="691.4" y="611" font-size="12" fill="#333" text-anchor="middle" font-family="Liberation Sans">2.25</text><line x1="735.6" y1="586.5" x2="735.6" y2="592.5" stroke="#444" stroke-width="1.2"/><text x="731.6" y="611" font-size="12" fill="#333" text-anchor="middle" font-family="Liberation Sans">2.5</text><text x="272" y="512.8" font-size="12" fill="#333" text-anchor="middle" font-family="Liberation Sans">1</text><text x="272" y="551.3" font-size="12" fill="#333" text-anchor="middle" font-family="Liberation Sans">0</text><text x="272" y="590.8" font-size="12" fill="#333" text-anchor="middle" font-family="Liberation Sans">-1</text><text x="0" y="0" font-size="12" fill="#666" text-anchor="middle" font-family="Liberation Sans" transform="translate(255.5,548) rotate(-90)">Acceleration in G-s</text><text x="514" y="628" font-size="10" fill="#555" text-anchor="middle" font-family="Liberation Sans">Time (seconds)</text><polyline points="293.30,553.21 293.41,554.97 293.52,547.04 293.63,552.74 293.74,541.18 293.85,541.81 293.96,554.63 294.07,540.70 294.18,552.73 294.29,549.36 294.40,549.21 294.51,549.66 294.62,549.27 294.73,552.82 294.84,543.72 294.95,546.39 295.06,544.70 295.17,558.66 295.28,537.70 295.39,556.50 295.50,549.73 295.61,547.26 295.72,551.99 295.83,551.91 295.94,539.16 296.05,551.57 296.16,548.47 296.27,539.17 296.38,545.16 296.49,541.16 296.60,546.01 296.71,549.76 296.82,552.98 296.93,554.67 297.04,552.68 297.15,539.00 297.26,546.19 297.37,540.86 297.48,540.65 297.59,546.56 297.70,543.74 297.81,544.17 297.92,548.95 298.03,547.44 298.14,546.84 298.25,550.33 298.36,541.63 298.47,553.95 298.58,555.03 298.69,547.60 298.80,540.93 298.91,554.13 299.02,539.71 299.13,543.48 299.24,549.23 299.35,541.11 299.46,545.74 299.57,546.09 299.68,539.95 299.79,552.42 299.90,544.85 300.01,541.89 300.12,542.65 300.23,547.80 300.34,540.79 300.45,547.42 300.56,539.96 300.67,540.64 300.78,540.55 300.89,547.85 301.00,551.45 301.11,538.82 301.22,538.87 301.33,554.84 301.44,543.04 301.55,548.75 301.66,538.03 301.77,533.35 301.88,549.92 301.99,543.34 302.10,545.82 302.21,553.76 302.32,537.61 302.43,549.57 302.54,539.22 302.65,547.16 302.76,555.06 302.87,546.68 302.98,536.84 303.09,544.13 303.20,554.56 303.31,554.50 303.42,549.90 303.53,551.13 303.64,555.01 303.75,542.46 303.86,552.09 303.97,543.57 304.08,542.17 304.19,557.13 304.30,542.92 304.41,539.40 304.52,551.68 304.63,548.33 304.74,545.82 304.85,549.33 304.96,561.89 305.07,542.89 305.18,539.90 305.29,537.60 305.40,542.95 305.51,555.15 305.62,549.67 305.73,541.12 305.84,556.43 305.95,548.01 306.06,542.43 306.17,555.33 306.28,551.52 306.39,553.38 306.50,545.69 306.61,555.30 306.72,536.70 306.83,542.34 306.94,551.58 307.05,549.85 307.16,553.01 307.27,544.87 307.38,546.32 307.49,553.07 307.60,542.12 307.71,550.51 307.82,551.64 307.93,550.93 308.04,545.67 308.15,538.46 308.26,554.10 308.37,537.74 308.48,542.84 308.59,553.07 308.70,540.98 308.81,552.01 308.92,549.34 309.03,546.25 309.14,545.63 309.25,544.01 309.36,544.68 309.47,551.95 309.58,545.56 309.69,552.37 309.80,545.74 309.91,545.01 310.02,549.84 310.13,539.10 310.24,543.31 310.35,540.16 310.46,550.17 310.57,556.12 310.68,546.09 310.79,552.31 310.90,539.13 311.01,539.98 311.12,547.35 311.23,555.08 311.34,540.07 311.45,553.78 311.56,540.15 311.67,543.04 311.78,538.69 311.89,544.57 312.00,548.99 312.11,556.06 312.22,552.69 312.33,547.04 312.44,548.09 312.55,558.29 312.66,555.50 312.77,547.34 312.88,555.51 312.99,542.03 313.10,539.26 313.21,543.12 313.32,543.67 313.43,550.97 313.54,548.68 313.65,544.50 313.76,557.83 313.87,546.62 313.98,538.78 314.09,545.90 314.20,548.35 314.31,550.12 314.42,553.95 314.53,548.84 314.64,544.52 314.75,549.83 314.86,553.70 314.97,543.04 315.08,539.69 315.19,548.28 315.30,549.74 315.41,548.47 315.52,549.86 315.63,550.08 315.74,544.11 315.85,550.12 315.96,539.92 316.07,539.32 316.18,550.78 316.29,549.55 316.40,550.56 316.51,543.59 316.62,550.11 316.73,548.81 316.84,557.72 316.95,549.02 317.06,542.31 317.17,549.55 317.28,553.85 317.39,541.46 317.50,549.61 317.61,547.69 317.72,542.47 317.83,548.44 317.94,544.75 318.05,553.84 318.16,546.06 318.27,551.25 318.38,547.98 318.49,549.97 318.60,542.35 318.71,554.05 318.82,548.65 318.93,545.11 319.04,552.34 319.15,545.60 319.26,543.00 319.37,547.79 319.48,553.42 319.59,551.08 319.70,544.80 319.81,542.51 319.92,550.09 320.03,560.13 320.14,543.01 320.25,558.02 320.36,544.85 320.47,539.72 320.58,553.90 320.69,559.59 320.80,542.59 320.91,540.74 321.02,542.26 321.13,545.71 321.24,547.70 321.35,539.13 321.46,554.54 321.57,547.12 321.68,538.08 321.79,545.13 321.90,555.28 322.01,549.89 322.12,548.29 322.23,549.51 322.34,535.39 322.45,546.24 322.56,546.48 322.67,543.85 322.78,546.55 322.89,547.63 323.00,541.06 323.11,547.32 323.22,544.51 323.33,537.46 323.44,547.62 323.55,556.70 323.66,549.37 323.77,540.13 323.88,548.48 323.99,549.14 324.10,538.99 324.21,550.33 324.32,540.88 324.43,546.42 324.54,539.47 324.65,542.97 324.76,546.05 324.87,554.41 324.98,549.22 325.09,540.97 325.20,535.40 325.31,546.76 325.42,538.62 325.53,540.81 325.64,552.31 325.75,541.41 325.86,543.59 325.97,542.14 326.08,548.55 326.19,552.68 326.30,550.16 326.41,544.06 326.52,552.19 326.63,553.90 326.74,554.19 326.85,552.03 326.96,539.24 327.07,554.01 327.18,542.78 327.29,551.25 327.40,546.60 327.51,543.29 327.62,543.27 327.73,549.11 327.84,544.15 327.95,553.88 328.06,545.37 328.17,546.54 328.28,542.17 328.39,547.43 328.50,549.80 328.61,550.40 328.72,550.69 328.83,544.70 328.94,543.81 329.05,547.40 329.16,539.29 329.27,538.64 329.38,553.34 329.49,538.14 329.60,543.11 329.71,538.36 329.82,550.87 329.93,543.65 330.04,542.54 330.15,548.17 330.26,554.67 330.37,550.46 330.48,551.17 330.59,548.54 330.70,540.15 330.81,553.34 330.92,541.67 331.03,547.99 331.14,554.63 331.25,549.59 331.36,543.32 331.47,552.55 331.58,551.43 331.69,555.09 331.80,532.07 331.91,553.81 332.02,540.62 332.13,549.89 332.24,547.99 332.35,538.17 332.46,552.42 332.57,550.34 332.68,550.37 332.79,555.64 332.90,550.91 333.01,538.54 333.12,546.21 333.23,546.20 333.34,555.91 333.45,545.06 333.56,534.56 333.67,547.76 333.78,552.31 333.89,550.96 334.00,550.58 334.11,552.03 334.22,554.06 334.33,544.32 334.44,542.90 334.55,552.64 334.66,539.40 334.77,550.28 334.88,554.75 334.99,541.50 335.10,549.28 335.21,549.02 335.32,548.70 335.43,540.74 335.54,551.62 335.65,545.59 335.76,553.38 335.87,549.03 335.98,554.27 336.09,557.45 336.20,554.53 336.31,543.46 336.42,554.09 336.53,551.31 336.64,543.28 336.75,543.54 336.86,545.37 336.97,542.73 337.08,543.81 337.19,546.81 337.30,537.48 337.41,551.85 337.52,540.76 337.63,553.88 337.74,549.09 337.85,554.47 337.96,541.43 338.07,547.91 338.18,547.10 338.29,547.60 338.40,537.05 338.51,544.21 338.62,550.22 338.73,542.06 338.84,552.76 338.95,547.85 339.06,541.84 339.17,548.42 339.28,541.83 339.39,539.93 339.50,545.19 339.61,547.22 339.72,542.82 339.83,554.78 339.94,543.12 340.05,549.22 340.16,546.68 340.27,547.86 340.38,542.20 340.49,537.78 340.60,545.50 340.71,551.59 340.82,543.71 340.93,544.47 341.04,548.68 341.15,551.88 341.26,538.56 341.37,542.87 341.48,537.86 341.59,556.36 341.70,551.64 341.81,550.31 341.92,547.67 342.03,556.97 342.14,546.81 342.25,532.42 342.36,545.17 342.47,554.29 342.58,549.21 342.69,549.43 342.80,547.58 342.91,549.48 343.02,542.56 343.13,548.93 343.24,548.34 343.35,539.24 343.46,553.24 343.57,542.78 343.68,552.66 343.79,551.86 343.90,550.31 344.01,537.47 344.12,536.68 344.23,553.93 344.34,548.85 344.45,547.86 344.56,544.69 344.67,550.94 344.78,546.71 344.89,543.21 345.00,548.60 345.11,552.98 345.22,539.28 345.33,549.13 345.44,551.14 345.55,562.64 345.66,549.09 345.77,536.39 345.88,547.59 345.99,539.39 346.10,554.74 346.21,540.00 346.32,543.03 346.43,547.08 346.54,552.95 346.65,540.76 346.76,541.82 346.87,547.85 346.98,557.28 347.09,557.29 347.20,552.53 347.31,543.24 347.42,550.30 347.53,550.04 347.64,554.08 347.75,543.02 347.86,546.13 347.97,538.71 348.08,542.04 348.19,556.38 348.30,555.13 348.41,551.90 348.52,538.76 348.63,548.38 348.74,541.07 348.85,551.37 348.96,553.81 349.07,548.47 349.18,555.87 349.29,547.43 349.40,539.63 349.51,550.13 349.62,547.49 349.73,542.14 349.84,543.13 349.95,544.04 350.06,545.55 350.17,535.19 350.28,546.81 350.39,550.90 350.50,547.33 350.61,544.76 350.72,543.94 350.83,543.15 350.94,540.43 351.05,541.73 351.16,550.54 351.27,552.99 351.38,539.54 351.49,550.43 351.60,548.51 351.71,545.84 351.82,546.79 351.93,546.73 352.04,551.97 352.15,537.68 352.26,540.72 352.37,548.96 352.48,553.23 352.59,540.21 352.70,550.19 352.81,555.16 352.92,531.21 353.03,554.18 353.14,552.14 353.25,549.37 353.36,543.40 353.47,552.03 353.58,550.94 353.69,543.77 353.80,547.64 353.91,553.76 354.02,554.75 354.13,552.32 354.24,553.81 354.35,548.28 354.46,539.33 354.57,545.44 354.68,538.77 354.79,548.25 354.90,549.88 355.01,542.70 355.12,541.78 355.23,548.62 355.34,541.58 355.45,540.77 355.56,541.68 355.67,542.51 355.78,545.98 355.89,534.17 356.00,540.67 356.11,543.06 356.22,541.24 356.33,556.49 356.44,543.25 356.55,555.72 356.66,541.15 356.77,538.13 356.88,543.97 356.99,538.65 357.10,543.40 357.21,551.81 357.32,538.37 357.43,550.55 357.54,548.30 357.65,544.34 357.76,545.32 357.87,541.28 357.98,553.32 358.09,548.50 358.20,541.71 358.31,539.04 358.42,539.13 358.53,539.89 358.64,548.33 358.75,547.59 358.86,540.25 358.97,543.54 359.08,552.41 359.19,554.27 359.30,542.22 359.41,558.47 359.52,541.01 359.63,541.97 359.74,539.66 359.85,549.59 359.96,556.03 360.07,553.56 360.18,555.46 360.29,553.85 360.40,547.09 360.51,546.21 360.62,542.70 360.73,542.94 360.84,540.89 360.95,551.31 361.06,543.71 361.17,552.19 361.28,545.18 361.39,539.55 361.50,552.11 361.61,559.38 361.72,539.77 361.83,551.62 361.94,544.27 362.05,549.57 362.16,542.23 362.27,543.26 362.38,553.87 362.49,555.62 362.60,548.35 362.71,545.67 362.82,549.17 362.93,550.24 363.04,550.33 363.15,543.92 363.26,551.81 363.37,549.22 363.48,552.87 363.59,551.34 363.70,541.81 363.81,552.67 363.92,543.83 364.03,548.47 364.14,550.94 364.25,539.02 364.36,549.13 364.47,555.42 364.58,547.84 364.69,547.31 364.80,534.12 364.91,539.43 365.02,539.75 365.13,554.63 365.24,553.28 365.35,549.46 365.46,539.78 365.57,536.56 365.68,545.48 365.79,539.70 365.90,545.30 366.01,540.19 366.12,547.58 366.23,544.69 366.34,537.64 366.45,539.72 366.56,546.76 366.67,540.35 366.78,545.57 366.89,552.12 367.00,547.37 367.11,556.77 367.22,546.60 367.33,540.58 367.44,548.95 367.55,551.68 367.66,552.06 367.77,551.59 367.88,550.55 367.99,549.88 368.10,537.38 368.21,547.23 368.32,540.40 368.43,546.20 368.54,552.38 368.65,544.68 368.76,544.37 368.87,557.33 368.98,543.44 369.09,548.85 369.20,545.44 369.31,553.54 369.42,545.55 369.53,555.35 369.64,549.49 369.75,542.06 369.86,539.13 369.97,546.96 370.08,556.37 370.19,540.22 370.30,554.45 370.41,546.56 370.52,536.94 370.63,539.66 370.74,556.76 370.85,548.33 370.96,550.74 371.07,535.73 371.18,543.39 371.29,546.73 371.40,553.79 371.51,542.84 371.62,549.99 371.73,541.97 371.84,551.64 371.95,542.05 372.06,549.07 372.17,542.00 372.28,555.34 372.39,549.64 372.50,542.96 372.61,542.64 372.72,550.04 372.83,549.75 372.94,548.09 373.05,553.36 373.16,544.62 373.27,548.83 373.38,552.23 373.49,548.59 373.60,545.55 373.71,550.72 373.82,555.39 373.93,556.14 374.04,547.77 374.15,552.99 374.26,543.33 374.37,554.09 374.48,538.59 374.59,549.87 374.70,553.09 374.81,559.76 374.92,555.52 375.03,544.38 375.14,552.30 375.25,549.07 375.36,539.83 375.47,547.38 375.58,555.17 375.69,549.97 375.80,548.61 375.91,545.49 376.02,540.43 376.13,552.32 376.24,553.24 376.35,554.03 376.46,551.88 376.57,543.87 376.68,554.68 376.79,549.90 376.90,542.52 377.01,549.09 377.12,551.13 377.23,541.54 377.34,545.35 377.45,533.97 377.56,552.70 377.67,550.45 377.78,552.60 377.89,542.89 378.00,540.04 378.11,546.77 378.22,549.48 378.33,543.31 378.44,544.19 378.55,549.62 378.66,554.00 378.77,542.14 378.88,547.62 378.99,546.67 379.10,551.04 379.21,548.76 379.32,545.43 379.43,557.66 379.54,553.63 379.65,546.09 379.76,546.15 379.87,539.13 379.98,539.91 380.09,549.66 380.20,548.16 380.31,540.82 380.42,550.68 380.53,546.71 380.64,548.59 380.75,555.76 380.86,550.12 380.97,551.11 381.08,550.16 381.19,552.95 381.30,554.01 381.41,540.22 381.52,548.35 381.63,543.94 381.74,551.06 381.85,547.70 381.96,540.29 382.07,555.91 382.18,553.09 382.29,540.69 382.40,550.92 382.51,554.71 382.62,543.98 382.73,542.40 382.84,546.76 382.95,553.77 383.06,545.98 383.17,545.53 383.28,553.59 383.39,534.95 383.50,541.77 383.61,545.24 383.72,541.04 383.83,542.32 383.94,543.99 384.05,554.94 384.16,546.78 384.27,550.57 384.38,539.38 384.49,542.37 384.60,544.38 384.71,545.02 384.82,548.05 384.93,545.67 385.04,543.42 385.15,550.97 385.26,548.50 385.37,540.00 385.48,554.34 385.59,553.10 385.70,556.82 385.81,543.99 385.92,552.78 386.03,551.82 386.14,553.23 386.25,548.57 386.36,544.52 386.47,542.26 386.58,542.53 386.69,552.51 386.80,543.92 386.91,541.10 387.02,543.61 387.13,541.69 387.24,545.22 387.35,551.48 387.46,553.59 387.57,543.15 387.68,540.96 387.79,551.65 387.90,542.49 388.01,553.01 388.12,552.71 388.23,551.78 388.34,542.17 388.45,544.57 388.56,539.07 388.67,550.00 388.78,548.46 388.89,544.10 389.00,545.26 389.11,535.28 389.22,547.64 389.33,545.66 389.44,553.22 389.55,551.46 389.66,551.07 389.77,557.82 389.88,538.96 389.99,548.44 390.10,554.79 390.21,556.93 390.32,549.95 390.43,546.54 390.54,551.20 390.65,554.48 390.76,544.87 390.87,541.38 390.98,545.09 391.09,550.97 391.20,544.87 391.31,546.57 391.42,550.90 391.53,552.64 391.64,543.46 391.75,545.12 391.86,555.20 391.97,545.66 392.08,546.20 392.19,545.22 392.30,544.40 392.41,537.28 392.52,543.05 392.63,556.29 392.74,540.92 392.85,539.35 392.96,547.36 393.07,550.92 393.18,553.89 393.29,550.07 393.40,552.26 393.51,557.01 393.62,550.10 393.73,537.96 393.84,542.68 393.95,543.56 394.06,543.35 394.17,541.05 394.28,542.56 394.39,538.43 394.50,541.01 394.61,548.95 394.72,536.62 394.83,541.85 394.94,545.81 395.05,552.38 395.16,549.88 395.27,547.84 395.38,556.62 395.49,542.32 395.60,536.26 395.71,555.76 395.82,554.01 395.93,542.70 396.04,541.30 396.15,544.17 396.26,552.98 396.37,544.08 396.48,546.48 396.59,541.56 396.70,542.81 396.81,542.14 396.92,551.55 397.03,542.05 397.14,552.20 397.25,545.70 397.36,540.42 397.47,549.49 397.58,552.61 397.69,557.36 397.80,542.07 397.91,537.37 398.02,548.59 398.13,548.53 398.24,540.35 398.35,542.35 398.46,536.93 398.57,545.14 398.68,550.12 398.79,549.39 398.90,543.62 399.01,556.76 399.12,535.49 399.23,546.41 399.34,552.81 399.45,553.03 399.56,545.97 399.67,537.92 399.78,541.84 399.89,544.71 400.00,547.98 400.11,551.27 400.22,552.74 400.33,548.31 400.44,542.33 400.55,553.12 400.66,553.24 400.77,553.98 400.88,541.67 400.99,543.38 401.10,541.98 401.21,543.59 401.32,538.60 401.43,552.21 401.54,556.11 401.65,543.14 401.76,542.28 401.87,548.09 401.98,549.27 402.09,549.68 402.20,553.52 402.31,555.19 402.42,555.32 402.53,547.89 402.64,543.50 402.75,544.38 402.86,545.86 402.97,549.58 403.08,551.87 403.19,544.92 403.30,555.02 403.41,553.68 403.52,544.49 403.63,549.79 403.74,549.08 403.85,541.73 403.96,554.88 404.07,546.90 404.18,539.92 404.29,549.66 404.40,546.73 404.51,546.01 404.62,546.08 404.73,554.51 404.84,547.39 404.95,549.78 405.06,557.72 405.17,555.03 405.28,553.65 405.39,546.02 405.50,548.09 405.61,539.58 405.72,552.36 405.83,552.02 405.94,558.90 406.05,560.39 406.16,548.35 406.27,547.46 406.38,551.99 406.49,544.81 406.60,547.35 406.71,537.28 406.82,557.09 406.93,552.15 407.04,545.66 407.15,542.23 407.26,547.02 407.37,539.58 407.48,551.54 407.59,546.87 407.70,540.89 407.81,555.40 407.92,542.69 408.03,546.39 408.14,545.42 408.25,543.10 408.36,547.28 408.47,547.10 408.58,554.63 408.69,550.65 408.80,552.45 408.91,539.40 409.02,545.46 409.13,547.71 409.24,555.32 409.35,544.09 409.46,547.19 409.57,549.80 409.68,545.29 409.79,543.37 409.90,540.27 410.01,538.53 410.12,537.96 410.23,540.14 410.34,541.09 410.45,549.56 410.56,551.96 410.67,547.58 410.78,546.33 410.89,548.04 411.00,548.69 411.11,551.75 411.22,551.77 411.33,542.64 411.44,543.82 411.55,541.49 411.66,547.54 411.77,539.42 411.88,550.32 411.99,550.84 412.10,552.83 412.21,542.40 412.32,539.66 412.43,537.07 412.54,550.93 412.65,541.57 412.76,548.25 412.87,546.89 412.98,544.16 413.09,540.52 413.20,553.70 413.31,543.15 413.42,548.18 413.53,551.16 413.64,549.44 413.75,547.23 413.86,550.51 413.97,551.77 414.08,542.82 414.19,550.66 414.30,556.44 414.41,540.14 414.52,555.71 414.63,544.25 414.74,538.73 414.85,542.94 414.96,554.25 415.07,541.74 415.18,554.36 415.29,544.63 415.40,553.93 415.51,543.23 415.62,545.08 415.73,547.44 415.84,546.30 415.95,550.16 416.06,544.25 416.17,541.34 416.28,541.94 416.39,551.47 416.50,545.25 416.61,553.09 416.72,532.93 416.83,542.96 416.94,541.07 417.05,545.30 417.16,547.65 417.27,543.49 417.38,547.67 417.49,544.37 417.60,547.23 417.71,546.72 417.82,538.35 417.93,546.31 418.04,552.65 418.15,543.98 418.26,552.62 418.37,553.53 418.48,550.83 418.59,546.98 418.70,553.21 418.81,546.20 418.92,543.22 419.03,545.27 419.14,543.36 419.25,541.33 419.36,557.02 419.47,555.28 419.58,542.63 419.69,550.59 419.80,550.53 419.91,547.98 420.02,554.88 420.13,539.44 420.24,539.59 420.35,535.83 420.46,549.47 420.57,538.22 420.68,543.79 420.79,542.52 420.90,550.70 421.01,549.85 421.12,551.58 421.23,536.94 421.34,542.88 421.45,544.27 421.56,539.87 421.67,543.33 421.78,542.36 421.89,552.11 422.00,545.16 422.11,550.89 422.22,554.63 422.33,538.80 422.44,544.39 422.55,537.68 422.66,550.10 422.77,537.87 422.88,541.15 422.99,550.52 423.10,547.75 423.21,552.13 423.32,546.15 423.43,550.26 423.54,539.92 423.65,547.36 423.76,554.32 423.87,550.66 423.98,542.07 424.09,537.67 424.20,549.07 424.31,553.12 424.42,552.66 424.53,542.32 424.64,545.09 424.75,552.49 424.86,545.04 424.97,536.13 425.08,549.79 425.19,552.06 425.30,541.83 425.41,549.05 425.52,535.35 425.63,552.75 425.74,557.50 425.85,542.53 425.96,541.98 426.07,541.88 426.18,551.90 426.29,539.78 426.40,554.46 426.51,545.12 426.62,536.30 426.73,552.04 426.84,538.96 426.95,548.49 427.06,551.03 427.17,555.95 427.28,552.66 427.39,550.92 427.50,540.64 427.61,546.74 427.72,543.44 427.83,552.52 427.94,544.41 428.05,548.11 428.16,546.09 428.27,555.04 428.38,537.54 428.49,550.96 428.60,550.86 428.71,541.36 428.82,550.83 428.93,538.86 429.04,540.52 429.15,551.43 429.26,542.05 429.37,540.05 429.48,548.82 429.59,540.76 429.70,542.41 429.81,537.18 429.92,546.98 430.03,546.17 430.14,545.66 430.25,551.99 430.36,557.99 430.47,552.85 430.58,553.91 430.69,540.57 430.80,548.69 430.91,546.16 431.02,550.48 431.13,552.08 431.24,542.58 431.35,546.60 431.46,559.80 431.57,552.73 431.68,545.08 431.79,541.36 431.90,548.92 432.01,550.28 432.12,539.98 432.23,553.04 432.34,531.92 432.45,552.97 432.56,547.89 432.67,553.86 432.78,555.59 432.89,546.09 433.00,547.82 433.11,547.59 433.22,550.66 433.33,537.78 433.44,540.56 433.55,550.54 433.66,549.06 433.77,550.26 433.88,540.43 433.99,555.44 434.10,553.17 434.21,554.07 434.32,545.01 434.43,550.92 434.54,552.66 434.65,537.55 434.76,543.54 434.87,550.42 434.98,537.63 435.09,552.45 435.20,542.92 435.31,547.91 435.42,544.62 435.53,545.95 435.64,547.00 435.75,542.61 435.86,533.08 435.97,551.51 436.08,547.82 436.19,549.87 436.30,553.59 436.41,541.93 436.52,540.61 436.63,545.33 436.74,542.77 436.85,554.84 436.96,554.62 437.07,547.79 437.18,543.31 437.29,555.33 437.40,544.35 437.51,558.02 437.62,539.03 437.73,549.26 437.84,551.42 437.95,539.35 438.06,552.95 438.17,552.87 438.28,553.16 438.39,548.94 438.50,544.88 438.61,553.12 438.72,555.46 438.83,552.79 438.94,531.97 439.05,542.53 439.16,549.38 439.27,545.06 439.38,554.56 439.49,546.42 439.60,549.89 439.71,551.55 439.82,538.32 439.93,544.09 440.04,552.88 440.15,549.29 440.26,556.10 440.37,547.27 440.48,546.56 440.59,541.14 440.70,540.91 440.81,555.76 440.92,541.08 441.03,544.62 441.14,545.73 441.25,543.68 441.36,545.73 441.47,548.58 441.58,553.02 441.69,554.68 441.80,547.37 441.91,551.09 442.02,557.50 442.13,551.25 442.24,544.86 442.35,546.21 442.46,542.85 442.57,544.15 442.68,548.40 442.79,535.42 442.90,546.89 443.01,549.52 443.12,556.17 443.23,555.00 443.34,539.36 443.45,554.03 443.56,550.49 443.67,551.37 443.78,555.18 443.89,550.95 444.00,548.96 444.11,556.01 444.22,547.02 444.33,541.25 444.44,547.48 444.55,554.59 444.66,553.29 444.77,541.21 444.88,549.72 444.99,551.12 445.10,538.60 445.21,552.69 445.32,540.17 445.43,552.20 445.54,554.02 445.65,542.79 445.76,555.68 445.87,553.39 445.98,541.04 446.09,546.91 446.20,550.84 446.31,551.74 446.42,539.44 446.53,544.56 446.64,544.73 446.75,546.32 446.86,548.87 446.97,556.52 447.08,553.33 447.19,552.90 447.30,551.64 447.41,558.92 447.52,543.39 447.63,540.59 447.74,554.70 447.85,542.18 447.96,551.14 448.07,548.06 448.18,548.43 448.29,558.74 448.40,537.23 448.51,539.97 448.62,552.22 448.73,540.25 448.84,557.91 448.95,548.10 449.06,554.06 449.17,547.60 449.28,538.17 449.39,546.90 449.50,547.74 449.61,538.30 449.72,549.51 449.83,549.00 449.94,551.12 450.05,547.18 450.16,554.95 450.27,551.52 450.38,559.29 450.49,541.56 450.60,554.59 450.71,549.86 450.82,552.54 450.93,545.61 451.04,548.23 451.15,541.10 451.26,551.94 451.37,546.08 451.48,551.96 451.59,545.33 451.70,541.02 451.81,551.19 451.92,544.73 452.03,537.19 452.14,539.54 452.25,534.46 452.36,541.97 452.47,542.75 452.58,540.56 452.69,542.47 452.80,549.80 452.91,544.09 453.02,550.82 453.13,540.12 453.24,546.52 453.35,540.73 453.46,550.19 453.57,544.13 453.68,543.27 453.79,548.47 453.90,542.41 454.01,545.96 454.12,557.10 454.23,533.78 454.34,547.43 454.45,547.13 454.56,541.41 454.67,543.79 454.78,545.71 454.89,547.65 455.00,537.93 455.11,555.12 455.22,557.06 455.33,542.72 455.44,553.01 455.55,544.54 455.66,549.51 455.77,549.33 455.88,553.85 455.99,538.06 456.10,547.20 456.21,546.50 456.32,550.68 456.43,547.51 456.54,551.30 456.65,537.74 456.76,539.23 456.87,555.54 456.98,540.66 457.09,547.97 457.20,546.50 457.31,542.94 457.42,542.02 457.53,562.28 457.64,546.86 457.75,548.33 457.86,543.25 457.97,548.94 458.08,540.74 458.19,545.12 458.30,549.23 458.41,544.90 458.52,548.24 458.63,546.28 458.74,540.58 458.85,549.85 458.96,545.06 459.07,552.01 459.18,543.43 459.29,547.90 459.40,550.86 459.51,549.44 459.62,540.46 459.73,549.86 459.84,553.03 459.95,542.53 460.06,541.07 460.17,542.60 460.28,543.21 460.39,540.24 460.50,542.00 460.61,544.19 460.72,550.86 460.83,552.59 460.94,542.61 461.05,547.47 461.16,549.22 461.27,542.40 461.38,549.17 461.49,547.93 461.60,546.65 461.71,547.38 461.82,550.94 461.93,551.56 462.04,550.23 462.15,550.35 462.26,540.60 462.37,549.31 462.48,537.62 462.59,540.77 462.70,547.79 462.81,548.99 462.92,544.70 463.03,542.38 463.14,553.24 463.25,537.43 463.36,551.21 463.47,537.31 463.58,545.76 463.69,543.49 463.80,552.69 463.91,552.42 464.02,540.73 464.13,547.20 464.24,555.81 464.35,544.26 464.46,546.78 464.57,555.98 464.68,552.06 464.79,540.94 464.90,548.35 465.01,548.53 465.12,546.94 465.23,552.02 465.34,545.13 465.45,554.12 465.56,545.25 465.67,535.61 465.78,554.74 465.89,542.60 466.00,545.52 466.11,543.41 466.22,555.34 466.33,544.50 466.44,554.65 466.55,550.62 466.66,549.69 466.77,556.07 466.88,553.54 466.99,536.81 467.10,545.07 467.21,555.70 467.32,556.16 467.43,548.06 467.54,550.45 467.65,551.19 467.76,548.63 467.87,546.95 467.98,547.68 468.09,544.62 468.20,536.71 468.31,540.26 468.42,542.83 468.53,549.40 468.64,549.81 468.75,540.86 468.86,539.47 468.97,538.22 469.08,542.09 469.19,541.25 469.30,540.30 469.41,542.66 469.52,544.38 469.63,551.55 469.74,545.59 469.85,554.18 469.96,541.74 470.07,541.08 470.18,543.21 470.29,545.42 470.40,553.27 470.51,539.24 470.62,550.15 470.73,550.20 470.84,540.95 470.95,538.40 471.06,546.11 471.17,541.67 471.28,548.30 471.39,544.01 471.50,545.06 471.61,550.04 471.72,552.37 471.83,544.14 471.94,542.20 472.05,549.70 472.16,540.54 472.27,543.19 472.38,544.90 472.49,544.44 472.60,543.49 472.71,548.45 472.82,550.54 472.93,553.95 473.04,549.42 473.15,541.75 473.26,547.72 473.37,550.43 473.48,543.98 473.59,540.27 473.70,541.76 473.81,554.42 473.92,542.97 474.03,547.01 474.14,548.10 474.25,546.23 474.36,553.45 474.47,548.13 474.58,550.54 474.69,545.13 474.80,554.34 474.91,540.58 475.02,545.98 475.13,544.03 475.24,550.86 475.35,541.38 475.46,547.79 475.57,555.66 475.68,545.05 475.79,547.97 475.90,545.98 476.01,558.73 476.12,552.33 476.23,537.35 476.34,544.00 476.45,544.78 476.56,545.08 476.67,552.72 476.78,545.65 476.89,540.98 477.00,545.17 477.11,541.77 477.22,550.34 477.33,551.12 477.44,545.01 477.55,537.17 477.66,543.23 477.77,548.25 477.88,549.38 477.99,544.81 478.10,553.68 478.21,536.95 478.32,541.63 478.43,549.89 478.54,548.89 478.65,540.40 478.76,547.56 478.87,545.59 478.98,543.79 479.09,552.03 479.20,546.53 479.31,551.25 479.42,542.04 479.53,551.25 479.64,546.67 479.75,548.05 479.86,547.12 479.97,542.86 480.08,553.00 480.19,540.61 480.30,553.33 480.41,535.54 480.52,550.96 480.63,553.81 480.74,544.63 480.85,540.48 480.96,546.78 481.07,543.31 481.18,547.07 481.29,544.13 481.40,554.71 481.51,535.29 481.62,550.73 481.73,546.38 481.84,543.21 481.95,550.30 482.06,542.47 482.17,554.04 482.28,539.47 482.39,551.11 482.50,551.55 482.61,545.27 482.72,549.06 482.83,544.39 482.94,537.77 483.05,553.97 483.16,551.50 483.27,553.46 483.38,540.61 483.49,543.59 483.60,546.73 483.71,555.26 483.82,538.95 483.93,545.26 484.04,535.11 484.15,556.57 484.26,553.01 484.37,541.99 484.48,554.98 484.59,540.07 484.70,536.75 484.81,547.43 484.92,542.61 485.03,553.93 485.14,547.26 485.25,552.79 485.36,547.06 485.47,550.98 485.58,540.11 485.69,548.94 485.80,556.59 485.91,546.72 486.02,545.89 486.13,552.72 486.24,549.40 486.35,548.95 486.46,543.64 486.57,544.26 486.68,545.42 486.79,547.42 486.90,546.57 487.01,549.77 487.12,546.50 487.23,552.87 487.34,555.32 487.45,536.87 487.56,552.01 487.67,543.95 487.78,546.31 487.89,551.47 488.00,553.11 488.11,546.15 488.22,553.17 488.33,550.02 488.44,539.84 488.55,544.50 488.66,550.57 488.77,544.60 488.88,562.08 488.99,549.46 489.10,540.56 489.21,542.44 489.32,552.68 489.43,546.28 489.54,555.54 489.65,552.82 489.76,541.87 489.87,544.04 489.98,548.59 490.09,547.56 490.20,555.54 490.31,546.87 490.42,550.49 490.53,554.21 490.64,543.44 490.75,549.91 490.86,545.10 490.97,540.96 491.08,547.36 491.19,547.77 491.30,546.21 491.41,545.32 491.52,554.45 491.63,542.14 491.74,553.06 491.85,548.05 491.96,542.10 492.07,545.87 492.18,547.37 492.29,552.10 492.40,547.07 492.51,551.51 492.62,545.64 492.73,536.68 492.84,546.72 492.95,546.57 493.06,538.71 493.17,540.84 493.28,538.69 493.39,542.13 493.50,533.97 493.61,543.55 493.72,557.13 493.83,545.23 493.94,542.37 494.05,539.72 494.16,555.23 494.27,538.24 494.38,539.21 494.49,548.56 494.60,543.76 494.71,551.10 494.82,551.66 494.93,541.87 495.04,547.52 495.15,542.66 495.26,552.46 495.37,543.19 495.48,539.46 495.59,543.39 495.70,544.37 495.81,554.35 495.92,540.71 496.03,544.59 496.14,552.78 496.25,538.96 496.36,541.66 496.47,542.34 496.58,547.57 496.69,537.54 496.80,542.58 496.91,548.38 497.02,543.20 497.13,555.15 497.24,554.29 497.35,543.30 497.46,554.25 497.57,535.69 497.68,547.21 497.79,538.73 497.90,537.80 498.01,545.45 498.12,550.52 498.23,554.78 498.34,552.66 498.45,545.24 498.56,543.66 498.67,544.69 498.78,539.42 498.89,548.48 499.00,543.95 499.11,541.04 499.22,552.75 499.33,552.95 499.44,537.73 499.55,539.05 499.66,547.13 499.77,548.61 499.88,553.19 499.99,542.29 500.10,542.46 500.21,553.20 500.32,550.63 500.43,546.80 500.54,540.82 500.65,537.16 500.76,548.63 500.87,550.37 500.98,551.03 501.09,546.67 501.20,551.45 501.31,552.51 501.42,540.02 501.53,542.57 501.64,543.79 501.75,554.03 501.86,548.86 501.97,549.40 502.08,550.11 502.19,552.84 502.30,553.59 502.41,540.64 502.52,533.68 502.63,542.10 502.74,553.90 502.85,542.00 502.96,540.94 503.07,541.29 503.18,540.59 503.29,544.21 503.40,540.54 503.51,538.53 503.62,551.47 503.73,548.65 503.84,551.70 503.95,552.74 504.06,552.54 504.17,537.54 504.28,540.89 504.39,541.20 504.50,540.15 504.61,546.25 504.72,551.81 504.83,551.25 504.94,549.40 505.05,541.42 505.16,557.00 505.27,548.72 505.38,546.86 505.49,543.64 505.60,551.20 505.71,544.61 505.82,551.40 505.93,539.49 506.04,544.42 506.15,552.62 506.26,548.51 506.37,544.03 506.48,546.85 506.59,538.36 506.70,552.84 506.81,538.26 506.92,553.83 507.03,537.70 507.14,538.25 507.25,546.06 507.36,547.81 507.47,551.95 507.58,544.15 507.69,544.76 507.80,544.37 507.91,538.83 508.02,542.85 508.13,548.75 508.24,541.28 508.35,542.70 508.46,551.71 508.57,536.37 508.68,551.17 508.79,553.01 508.90,542.58 509.01,549.70 509.12,542.08 509.23,543.22 509.34,541.69 509.45,541.80 509.56,545.84 509.67,547.74 509.78,543.33 509.89,554.65 510.00,546.58 510.11,541.15 510.22,550.69 510.33,542.02 510.44,553.16 510.55,542.93 510.66,539.01 510.77,536.31 510.88,550.34 510.99,553.03 511.10,547.74 511.21,541.24 511.32,548.53 511.43,537.00 511.54,541.64 511.65,553.39 511.76,549.90 511.87,550.88 511.98,555.71 512.09,549.73 512.20,552.59 512.31,550.39 512.42,556.57 512.53,547.76 512.64,545.67 512.75,550.25 512.86,549.14 512.97,549.96 513.08,549.96 513.19,553.31 513.30,556.30 513.41,552.20 513.52,554.66 513.63,541.31 513.74,555.88 513.85,542.23 513.96,550.61 514.07,551.52 514.18,554.83 514.29,546.42 514.40,545.02 514.51,552.24 514.62,551.59 514.73,554.21 514.84,541.10 514.95,542.88 515.06,541.07 515.17,545.75 515.28,544.30 515.39,553.18 515.50,538.44 515.61,548.95 515.72,547.72 515.83,540.15 515.94,546.25 516.05,556.77 516.16,553.80 516.27,548.36 516.38,544.83 516.49,544.42 516.60,543.17 516.71,548.31 516.82,547.07 516.93,550.07 517.04,544.00 517.15,544.55 517.26,541.67 517.37,544.92 517.48,549.69 517.59,549.18 517.70,553.42 517.81,543.26 517.92,542.64 518.03,547.02 518.14,553.17 518.25,540.60 518.36,545.39 518.47,536.95 518.58,543.37 518.69,539.83 518.80,549.61 518.91,545.62 519.02,548.30 519.13,551.95 519.24,546.43 519.35,542.16 519.46,551.89 519.57,539.89 519.68,541.98 519.79,546.50 519.90,550.05 520.01,549.07 520.12,537.47 520.23,549.33 520.34,540.55 520.45,549.12 520.56,547.00 520.67,540.31 520.78,541.09 520.89,551.64 521.00,549.07 521.11,540.16 521.22,542.56 521.33,546.69 521.44,551.23 521.55,550.19 521.66,539.72 521.77,539.35 521.88,545.60 521.99,540.72 522.10,546.68 522.21,544.27 522.32,551.87 522.43,545.00 522.54,551.67 522.65,540.84 522.76,553.91 522.87,546.74 522.98,550.76 523.09,543.67 523.20,543.54 523.31,548.29 523.42,557.81 523.53,550.04 523.64,552.12 523.75,539.73 523.86,543.12 523.97,542.38 524.08,544.28 524.19,538.95 524.30,547.07 524.41,545.81 524.52,555.74 524.63,538.43 524.74,543.79 524.85,553.73 524.96,545.18 525.07,544.17 525.18,547.12 525.29,539.08 525.40,553.19 525.51,544.12 525.62,556.16 525.73,541.49 525.84,541.40 525.95,550.88 526.06,545.43 526.17,556.13 526.28,550.39 526.39,539.99 526.50,538.78 526.61,554.55 526.72,537.32 526.83,542.99 526.94,553.58 527.05,538.79 527.16,553.37 527.27,550.58 527.38,548.70 527.49,555.35 527.60,541.72 527.71,553.10 527.82,545.06 527.93,548.69 528.04,538.96 528.15,544.16 528.26,539.56 528.37,534.57 528.48,542.57 528.59,540.29 528.70,546.25 528.81,550.58 528.92,542.00 529.03,549.02 529.14,548.45 529.25,552.12 529.36,550.88 529.47,553.29 529.58,545.93 529.69,540.73 529.80,543.83 529.91,540.93 530.02,543.68 530.13,542.83 530.24,545.20 530.35,546.79 530.46,539.76 530.57,541.40 530.68,540.52 530.79,540.83 530.90,548.11 531.01,558.83 531.12,546.83 531.23,541.07 531.34,543.77 531.45,538.67 531.56,548.59 531.67,543.48 531.78,540.37 531.89,555.19 532.00,549.05 532.11,545.05 532.22,549.83 532.33,552.17 532.44,544.55 532.55,544.40 532.66,545.14 532.77,552.07 532.88,540.90 532.99,541.11 533.10,548.13 533.21,544.19 533.32,542.11 533.43,548.31 533.54,541.69 533.65,539.47 533.76,555.95 533.87,546.29 533.98,547.05 534.09,538.68 534.20,551.51 534.31,539.33 534.42,540.60 534.53,541.79 534.64,546.54 534.75,544.90 534.86,553.31 534.97,542.30 535.08,551.36 535.19,550.24 535.30,551.03 535.41,552.62 535.52,540.59 535.63,544.93 535.74,543.48 535.85,551.55 535.96,551.37 536.07,539.42 536.18,550.04 536.29,552.06 536.40,539.50 536.51,550.24 536.62,539.73 536.73,547.89 536.84,552.88 536.95,552.38 537.06,553.83 537.17,550.22 537.28,549.32 537.39,549.78 537.50,549.12 537.61,539.28 537.72,548.15 537.83,549.10 537.94,548.92 538.05,547.04 538.16,546.21 538.27,538.45 538.38,552.53 538.49,545.63 538.60,544.09 538.71,544.90 538.82,543.02 538.93,547.17 539.04,548.29 539.15,542.70 539.26,555.74 539.37,549.70 539.48,548.81 539.59,549.13 539.70,551.59 539.81,542.70 539.92,549.16 540.03,550.83 540.14,541.98 540.25,554.70 540.36,538.08 540.47,550.91 540.58,551.47 540.69,553.33 540.80,547.03 540.91,553.41 541.02,542.91 541.13,533.89 541.24,548.40 541.35,554.70 541.46,538.76 541.57,556.87 541.68,542.42 541.79,544.45 541.90,539.82 542.01,549.60 542.12,543.63 542.23,543.77 542.34,546.03 542.45,540.78 542.56,540.90 542.67,545.96 542.78,547.90 542.89,546.39 543.00,540.63 543.11,552.69 543.22,561.32 543.33,555.76 543.44,539.78 543.55,552.55 543.66,546.61 543.77,544.40 543.88,549.18 543.99,550.49 544.10,542.29 544.21,541.49 544.32,541.40 544.43,552.18 544.54,552.68 544.65,548.72 544.76,550.90 544.87,539.10 544.98,536.93 545.09,539.74 545.20,539.54 545.31,551.40 545.42,550.99 545.53,555.33 545.64,545.70 545.75,548.36 545.86,535.86 545.97,547.26 546.08,546.46 546.19,549.02 546.30,549.33 546.41,543.23 546.52,536.93 546.63,539.36 546.74,539.78 546.85,539.61 546.96,551.37 547.07,554.57 547.18,556.76 547.29,545.07 547.40,543.89 547.51,553.17 547.62,548.81 547.73,551.06 547.84,540.40 547.95,542.86 548.06,539.43 548.17,537.58 548.28,543.40 548.39,550.87 548.50,538.13 548.61,553.18 548.72,538.50 548.83,552.61 548.94,550.47 549.05,546.37 549.16,543.10 549.27,552.84 549.38,550.85 549.49,540.49 549.60,551.63 549.71,552.09 549.82,541.84 549.93,546.17 550.04,552.81 550.15,539.43 550.26,554.03 550.37,541.13 550.48,547.18 550.59,540.02 550.70,540.15 550.81,538.05 550.92,551.59 551.03,541.30 551.14,555.92 551.25,547.83 551.36,549.14 551.47,541.32 551.58,541.59 551.69,540.92 551.80,550.35 551.91,544.54 552.02,548.05 552.13,543.57 552.24,543.99 552.35,543.03 552.46,549.95 552.57,545.49 552.68,550.79 552.79,549.77 552.90,556.10 553.01,542.50 553.12,546.02 553.23,547.34 553.34,554.03 553.45,548.29 553.56,550.27 553.67,540.78 553.78,550.00 553.89,541.02 554.00,549.74 554.11,542.71 554.22,554.66 554.33,543.41 554.44,554.26 554.55,552.88 554.66,552.27 554.77,550.38 554.88,543.99 554.99,540.01 555.10,543.88 555.21,550.23 555.32,555.57 555.43,549.54 555.54,546.74 555.65,553.91 555.76,539.55 555.87,538.48 555.98,552.25 556.09,551.43 556.20,544.44 556.31,547.89 556.42,547.44 556.53,541.90 556.64,535.63 556.75,551.99 556.86,550.35 556.97,537.60 557.08,542.02 557.19,548.55 557.30,542.82 557.41,541.08 557.52,545.95 557.63,550.12 557.74,550.80 557.85,551.95 557.96,544.46 558.07,554.06 558.18,548.46 558.29,555.26 558.40,543.93 558.51,548.20 558.62,559.62 558.73,540.33 558.84,550.03 558.95,546.62 559.06,550.23 559.17,541.48 559.28,553.31 559.39,555.88 559.50,549.38 559.61,546.56 559.72,546.83 559.83,550.98 559.94,545.56 560.05,539.59 560.16,547.90 560.27,553.69 560.38,545.11 560.49,540.35 560.60,557.55 560.71,547.12 560.82,545.67 560.93,547.38 561.04,544.04 561.15,547.10 561.26,540.27 561.37,545.91 561.48,543.26 561.59,541.19 561.70,542.09 561.81,553.91 561.92,559.28 562.03,552.54 562.14,546.19 562.25,557.32 562.36,546.16 562.47,554.70 562.58,538.79 562.69,553.96 562.80,542.11 562.91,541.77 563.02,551.73 563.13,554.63 563.24,547.43 563.35,541.45 563.46,553.90 563.57,555.00 563.68,539.54 563.79,539.73 563.90,548.74 564.01,543.25 564.12,547.35 564.23,551.51 564.34,554.51 564.45,545.18 564.56,550.69 564.67,545.85 564.78,543.01 564.89,551.65 565.00,543.21 565.11,541.43 565.22,555.49 565.33,538.82 565.44,542.85 565.55,548.87 565.66,546.61 565.77,549.76 565.88,546.00 565.99,546.04 566.10,549.44 566.21,545.46 566.32,545.11 566.43,546.22 566.54,543.61 566.65,544.22 566.76,542.02 566.87,543.10 566.98,552.66 567.09,547.80 567.20,541.69 567.31,542.88 567.42,552.48 567.53,542.34 567.64,546.92 567.75,539.19 567.86,542.78 567.97,548.31 568.08,553.76 568.19,547.30 568.30,550.46 568.41,548.25 568.52,549.27 568.63,542.64 568.74,538.91 568.85,544.81 568.96,546.89 569.07,543.94 569.18,536.98 569.29,553.60 569.40,546.61 569.51,539.63 569.62,542.19 569.73,545.76 569.84,548.09 569.95,551.41 570.06,539.07 570.17,543.20 570.28,547.68 570.39,551.16 570.50,543.74 570.61,548.31 570.72,556.32 570.83,556.57 570.94,541.04 571.05,547.06 571.16,549.11 571.27,547.23 571.38,549.47 571.49,551.09 571.60,550.39 571.71,544.21 571.82,545.45 571.93,547.41 572.04,549.73 572.15,551.42 572.26,548.72 572.37,552.33 572.48,547.01 572.59,549.08 572.70,542.22 572.81,541.29 572.92,553.99 573.03,554.11 573.14,535.23 573.25,546.18 573.36,544.37 573.47,537.79 573.58,547.45 573.69,545.32 573.80,538.97 573.91,544.11 574.02,558.76 574.13,552.50 574.24,543.87 574.35,547.59 574.46,544.62 574.57,553.28 574.68,547.28 574.79,552.28 574.90,545.95 575.01,542.92 575.12,550.79 575.23,544.85 575.34,539.69 575.45,536.50 575.56,551.38 575.67,546.33 575.78,552.17 575.89,545.77 576.00,539.01 576.11,544.37 576.22,542.96 576.33,553.13 576.44,546.87 576.55,544.32 576.66,556.47 576.77,544.59 576.88,547.62 576.99,552.56 577.10,552.73 577.21,550.19 577.32,544.07 577.43,540.05 577.54,546.64 577.65,550.63 577.76,550.20 577.87,553.23 577.98,535.99 578.09,552.35 578.20,549.71 578.31,553.13 578.42,539.60 578.53,538.38 578.64,555.30 578.75,553.16 578.86,552.45 578.97,544.92 579.08,531.36 579.19,552.82 579.30,541.65 579.41,554.17 579.52,548.12 579.63,539.94 579.74,555.67 579.85,551.66 579.96,554.71 580.07,550.64 580.18,540.85 580.29,537.09 580.40,542.81 580.51,539.20 580.62,549.75 580.73,554.88 580.84,544.81 580.95,546.53 581.06,551.54 581.17,537.77 581.28,541.06 581.39,549.18 581.50,555.24 581.61,541.94 581.72,554.24 581.83,544.84 581.94,533.50 582.05,541.31 582.16,554.30 582.27,543.34 582.38,541.01 582.49,541.12 582.60,549.83 582.71,543.09 582.82,545.71 582.93,539.02 583.04,547.03 583.15,553.60 583.26,550.90 583.37,554.94 583.48,540.58 583.59,549.81 583.70,550.45 583.81,548.94 583.92,546.79 584.03,542.13 584.14,555.04 584.25,536.73 584.36,548.36 584.47,552.37 584.58,546.87 584.69,546.11 584.80,544.30 584.91,550.23 585.02,552.09 585.13,543.10 585.24,549.00 585.35,544.49 585.46,538.47 585.57,548.55 585.68,550.08 585.79,551.73 585.90,541.43 586.01,553.78 586.12,542.06 586.23,537.51 586.34,538.48 586.45,548.95 586.56,550.32 586.67,544.38 586.78,547.70 586.89,542.74 587.00,549.72 587.11,543.78 587.22,536.05 587.33,547.72 587.44,541.71 587.55,553.25 587.66,551.18 587.77,546.42 587.88,556.30 587.99,538.64 588.10,552.09 588.21,549.51 588.32,533.88 588.43,531.90 588.54,541.56 588.65,545.90 588.76,544.03 588.87,544.20 588.98,551.09 589.09,541.22 589.20,549.42 589.31,554.23 589.42,542.25 589.53,549.95 589.64,555.12 589.75,545.43 589.86,545.15 589.97,545.73 590.08,551.96 590.19,544.09 590.30,542.45 590.41,536.67 590.52,538.99 590.63,552.76 590.74,550.81 590.85,546.51 590.96,545.42 591.07,538.91 591.18,543.46 591.29,537.39 591.40,540.46 591.51,539.63 591.62,547.98 591.73,545.98 591.84,537.57 591.95,546.92 592.06,553.93 592.17,552.01 592.28,552.18 592.39,538.02 592.50,548.02 592.61,552.38 592.72,552.58 592.83,548.11 592.94,555.01 593.05,538.99 593.16,543.54 593.27,551.60 593.38,538.20 593.49,542.82 593.60,540.66 593.71,550.50 593.82,543.21 593.93,545.26 594.04,539.26 594.15,554.67 594.26,542.96 594.37,547.00 594.48,553.24 594.59,552.46 594.70,542.22 594.81,546.54 594.92,541.85 595.03,542.76 595.14,550.91 595.25,544.80 595.36,552.59 595.47,554.98 595.58,544.57 595.69,540.76 595.80,547.82 595.91,545.89 596.02,552.77 596.13,538.94 596.24,552.68 596.35,544.79 596.46,558.20 596.57,550.91 596.68,552.21 596.79,554.84 596.90,539.30 597.01,548.47 597.12,542.37 597.23,546.21 597.34,541.12 597.45,556.15 597.56,552.44 597.67,543.43 597.78,542.37 597.89,548.97 598.00,539.50 598.11,540.28 598.22,551.47 598.33,541.55 598.44,539.25 598.55,545.86 598.66,540.52 598.77,552.69 598.88,537.09 598.99,544.97 599.10,550.72 599.21,549.31 599.32,552.13 599.43,541.80 599.54,544.81 599.65,541.81 599.76,543.16 599.87,550.13 599.98,541.68 600.09,547.67 600.20,550.29 600.31,545.21 600.42,539.54 600.53,555.22 600.64,550.94 600.75,553.22 600.86,550.81 600.97,549.79 601.08,538.51 601.19,546.61 601.30,556.65 601.41,539.69 601.52,538.24 601.63,554.96 601.74,550.58 601.85,552.58 601.96,542.68 602.07,552.65 602.18,548.56 602.29,552.48 602.40,553.55 602.51,549.03 602.62,552.42 602.73,555.91 602.84,544.68 602.95,542.76 603.06,549.50 603.17,553.83 603.28,545.13 603.39,550.74 603.50,541.87 603.61,548.68 603.72,549.55 603.83,547.03 603.94,545.29 604.05,554.31 604.16,547.64 604.27,539.65 604.38,550.39 604.49,546.47 604.60,544.53 604.71,538.80 604.82,547.78 604.93,554.65 605.04,539.39 605.15,553.36 605.26,552.01 605.37,548.37 605.48,544.46 605.59,548.70 605.70,544.45 605.81,547.80 605.92,549.01 606.03,542.90 606.14,548.53 606.25,554.81 606.36,548.83 606.47,546.05 606.58,540.09 606.69,544.03 606.80,555.55 606.91,550.14 607.02,541.98 607.13,552.22 607.24,551.94 607.35,553.60 607.46,555.17 607.57,545.55 607.68,548.31 607.79,550.90 607.90,544.11 608.01,540.39 608.12,548.20 608.23,552.64 608.34,544.82 608.45,543.99 608.56,541.94 608.67,539.29 608.78,549.26 608.89,538.57 609.00,549.82 609.11,547.70 609.22,539.99 609.33,540.71 609.44,556.88 609.55,541.76 609.66,545.98 609.77,537.39 609.88,544.95 609.99,542.88 610.10,551.64 610.21,551.68 610.32,548.25 610.43,546.82 610.54,552.06 610.65,549.57 610.76,554.78 610.87,550.60 610.98,552.88 611.09,541.23 611.20,550.96 611.31,535.46 611.42,554.39 611.53,545.20 611.64,541.91 611.75,543.15 611.86,538.93 611.97,546.22 612.08,544.48 612.19,544.07 612.30,554.99 612.41,539.48 612.52,547.18 612.63,538.77 612.74,540.68 612.85,542.10 612.96,555.57 613.07,542.45 613.18,552.76 613.29,554.72 613.40,538.97 613.51,552.33 613.62,545.76 613.73,541.48 613.84,548.48 613.95,548.85 614.06,546.19 614.17,552.41 614.28,550.49 614.39,550.86 614.50,544.08 614.61,553.90 614.72,551.08 614.83,552.65 614.94,555.30 615.05,544.28 615.16,548.22 615.27,546.97 615.38,544.26 615.49,554.25 615.60,544.67 615.71,552.40 615.82,548.23 615.93,544.51 616.04,540.76 616.15,543.39 616.26,549.98 616.37,557.82 616.48,545.70 616.59,555.81 616.70,544.31 616.81,547.11 616.92,546.07 617.03,542.05 617.14,539.83 617.25,548.24 617.36,541.41 617.47,553.14 617.58,546.71 617.69,532.32 617.80,541.88 617.91,553.33 618.02,550.53 618.13,553.81 618.24,554.00 618.35,551.64 618.46,549.60 618.57,540.74 618.68,542.55 618.79,549.30 618.90,550.63 619.01,545.55 619.12,540.98 619.23,537.09 619.34,544.41 619.45,549.57 619.56,545.54 619.67,549.61 619.78,545.42 619.89,545.27 620.00,547.11 620.11,548.37 620.22,551.54 620.33,550.51 620.44,550.09 620.55,555.44 620.66,535.37 620.77,544.59 620.88,555.96 620.99,553.85 621.10,537.61 621.21,543.75 621.32,541.91 621.43,542.36 621.54,547.78 621.65,549.76 621.76,553.71 621.87,554.45 621.98,548.80 622.09,541.77 622.20,539.70 622.31,545.90 622.42,553.38 622.53,549.03 622.64,547.09 622.75,545.10 622.86,555.08 622.97,550.00 623.08,534.47 623.19,556.97 623.30,554.09 623.41,541.00 623.52,557.42 623.63,544.64 623.74,542.93 623.85,542.58 623.96,555.07 624.07,540.98 624.18,539.97 624.29,547.24 624.40,551.82 624.51,540.54 624.62,549.40 624.73,549.89 624.84,550.22 624.95,550.81 625.06,555.72 625.17,547.53 625.28,556.67 625.39,541.19 625.50,546.44 625.61,548.26 625.72,546.53 625.83,546.47 625.94,543.57 626.05,545.43 626.16,557.01 626.27,542.03 626.38,538.55 626.49,540.14 626.60,550.71 626.71,536.99 626.82,548.88 626.93,541.05 627.04,537.81 627.15,539.03 627.26,556.74 627.37,540.96 627.48,540.47 627.59,552.53 627.70,549.82 627.81,552.89 627.92,540.47 628.03,548.76 628.14,547.83 628.25,554.39 628.36,549.10 628.47,547.29 628.58,552.67 628.69,552.01 628.80,551.91 628.91,552.59 629.02,554.60 629.13,555.16 629.24,548.91 629.35,541.18 629.46,550.20 629.57,538.46 629.68,545.48 629.79,545.61 629.90,541.50 630.01,548.26 630.12,539.24 630.23,551.58 630.34,545.60 630.45,542.39 630.56,536.05 630.67,550.27 630.78,547.28 630.89,550.92 631.00,546.91 631.11,548.32 631.22,544.58 631.33,538.72 631.44,543.81 631.55,546.22 631.66,540.84 631.77,543.30 631.88,546.42 631.99,551.85 632.10,547.55 632.21,548.21 632.32,547.03 632.43,540.54 632.54,538.32 632.65,550.20 632.76,536.86 632.87,542.20 632.98,548.51 633.09,538.64 633.20,549.46 633.31,544.57 633.42,541.52 633.53,552.43 633.64,547.08 633.75,543.97 633.86,541.30 633.97,547.93 634.08,539.64 634.19,546.22 634.30,541.06 634.41,548.06 634.52,543.69 634.63,544.61 634.74,536.33 634.85,549.68 634.96,556.37 635.07,545.87 635.18,549.65 635.29,536.82 635.40,551.44 635.51,553.03 635.62,538.85 635.73,554.55 635.84,545.10 635.95,546.74 636.06,550.22 636.17,542.93 636.28,543.82 636.39,543.97 636.50,548.94 636.61,547.54 636.72,540.05 636.83,543.23 636.94,544.90 637.05,541.77 637.16,536.48 637.27,539.31 637.38,538.00 637.49,545.01 637.60,552.69 637.71,554.30 637.82,541.44 637.93,550.72 638.04,554.75 638.15,539.61 638.26,552.64 638.37,539.54 638.48,556.27 638.59,552.62 638.70,543.14 638.81,546.59 638.92,543.51 639.03,546.62 639.14,550.74 639.25,550.14 639.36,551.86 639.47,555.15 639.58,542.19 639.69,545.15 639.80,553.87 639.91,549.14 640.02,550.47 640.13,545.73 640.24,547.52 640.35,541.28 640.46,553.76 640.57,538.28 640.68,556.49 640.79,542.03 640.90,542.38 641.01,553.81 641.12,546.87 641.23,553.86 641.34,547.19 641.45,545.63 641.56,552.37 641.67,550.77 641.78,538.97 641.89,538.47 642.00,540.13 642.11,540.33 642.22,541.47 642.33,548.15 642.44,551.70 642.55,540.65 642.66,553.78 642.77,541.55 642.88,539.93 642.99,542.49 643.10,541.58 643.21,553.46 643.32,541.50 643.43,548.62 643.54,549.55 643.65,545.68 643.76,547.89 643.87,540.02 643.98,554.03 644.09,550.84 644.20,542.35 644.31,550.34 644.42,543.62 644.53,538.12 644.64,552.40 644.75,549.64 644.86,536.81 644.97,543.03 645.08,555.94 645.19,549.85 645.30,543.22 645.41,539.54 645.52,543.42 645.63,546.86 645.74,548.90 645.85,537.42 645.96,547.77 646.07,549.59 646.18,549.59 646.29,546.97 646.40,553.45 646.51,549.89 646.62,559.88 646.73,555.36 646.84,550.47 646.95,540.66 647.06,544.43 647.17,550.79 647.28,535.38 647.39,556.66 647.50,552.13 647.61,539.26 647.72,537.26 647.83,539.82 647.94,541.78 648.05,544.82 648.16,556.24 648.27,546.55 648.38,548.05 648.49,556.55 648.60,549.07 648.71,551.01 648.82,548.33 648.93,546.00 649.04,551.37 649.15,546.00 649.26,544.64 649.37,543.27 649.48,546.22 649.59,550.03 649.70,546.11 649.81,546.71 649.92,553.33 650.03,549.70 650.14,533.52 650.25,543.08 650.36,546.23 650.47,547.46 650.58,546.46 650.69,549.20 650.80,558.26 650.91,552.05 651.02,546.26 651.13,551.91 651.24,542.93 651.35,544.58 651.46,541.32 651.57,541.73 651.68,540.49 651.79,547.12 651.90,554.12 652.01,548.72 652.12,555.31 652.23,543.75 652.34,553.14 652.45,539.01 652.56,537.83 652.67,544.51 652.78,552.32 652.89,542.77 653.00,544.65 653.11,549.26 653.22,547.61 653.33,541.94 653.44,547.40 653.55,546.40 653.66,550.18 653.77,561.78 653.88,546.56 653.99,542.54 654.10,552.03 654.21,547.66 654.32,554.25 654.43,542.34 654.54,545.29 654.65,542.46 654.76,548.14 654.87,541.64 654.98,545.26 655.09,551.28 655.20,538.05 655.31,549.02 655.42,539.81 655.53,550.78 655.64,554.39 655.75,551.51 655.86,553.83 655.97,542.49 656.08,550.46 656.19,547.79 656.30,548.97 656.41,543.26 656.52,547.01 656.63,550.87 656.74,546.58 656.85,541.78 656.96,541.12 657.07,540.67 657.18,550.76 657.29,547.35 657.40,541.42 657.51,550.47 657.62,552.62 657.73,538.75 657.84,540.63 657.95,551.25 658.06,554.52 658.17,550.74 658.28,543.25 658.39,548.29 658.50,542.83 658.61,543.96 658.72,545.36 658.83,544.55 658.94,536.22 659.05,543.24 659.16,552.86 659.27,553.48 659.38,540.79 659.49,548.00 659.60,532.68 659.71,547.66 659.82,555.08 659.93,551.72 660.04,546.33 660.15,552.07 660.26,548.56 660.37,554.68 660.48,546.58 660.59,544.30 660.70,544.11 660.81,538.80 660.92,539.44 661.03,539.79 661.14,552.69 661.25,554.35 661.36,539.76 661.47,552.65 661.58,538.20 661.69,546.86 661.80,546.42 661.91,544.63 662.02,550.46 662.13,540.58 662.24,551.38 662.35,555.08 662.46,555.33 662.57,546.86 662.68,543.80 662.79,543.21 662.90,547.94 663.01,555.31 663.12,544.83 663.23,542.15 663.34,546.59 663.45,551.25 663.56,551.41 663.67,547.65 663.78,554.01 663.89,552.07 664.00,540.52 664.11,551.45 664.22,542.65 664.33,553.54 664.44,545.01 664.55,548.05 664.66,544.94 664.77,542.40 664.88,550.85 664.99,554.04 665.10,539.64 665.21,552.63 665.32,544.57 665.43,548.13 665.54,543.08 665.65,542.75 665.76,552.97 665.87,541.17 665.98,548.31 666.09,542.46 666.20,548.45 666.31,548.69 666.42,540.47 666.53,545.35 666.64,550.89 666.75,552.36 666.86,542.34 666.97,540.68 667.08,552.26 667.19,543.69 667.30,544.69 667.41,550.15 667.52,549.11 667.63,544.08 667.74,542.55 667.85,555.75 667.96,544.92 668.07,542.45 668.18,548.96 668.29,540.99 668.40,543.37 668.51,545.59 668.62,550.51 668.73,547.95 668.84,540.10 668.95,555.92 669.06,540.27 669.17,544.70 669.28,549.74 669.39,554.34 669.50,545.41 669.61,544.87 669.72,552.56 669.83,550.60 669.94,536.70 670.05,558.71 670.16,554.75 670.27,549.23 670.38,547.57 670.49,542.91 670.60,548.85 670.71,552.57 670.82,547.61 670.93,548.27 671.04,551.02 671.15,548.50 671.26,549.59 671.37,534.65 671.48,539.67 671.59,545.39 671.70,542.34 671.81,549.10 671.92,550.87 672.03,546.43 672.14,541.23 672.25,537.43 672.36,541.46 672.47,541.58 672.58,544.26 672.69,543.82 672.80,540.04 672.91,550.89 673.02,551.82 673.13,539.15 673.24,550.10 673.35,552.76 673.46,534.01 673.57,544.74 673.68,553.91 673.79,549.69 673.90,550.95 674.01,540.21 674.12,542.99 674.23,549.31 674.34,548.53 674.45,544.07 674.56,553.92 674.67,554.37 674.78,546.89 674.89,539.65 675.00,546.18 675.11,556.43 675.22,540.21 675.33,557.90 675.44,544.90 675.55,546.13 675.66,555.71 675.77,554.43 675.88,544.05 675.99,548.21 676.10,551.09 676.21,547.92 676.32,545.31 676.43,543.92 676.54,546.68 676.65,548.61 676.76,540.11 676.87,544.54 676.98,556.19 677.09,540.72 677.20,542.83 677.31,546.20 677.42,547.63 677.53,543.63 677.64,551.91 677.75,547.54 677.86,553.71 677.97,550.44 678.08,554.41 678.19,539.97 678.30,552.10 678.41,552.16 678.52,553.76 678.63,550.56 678.74,539.66 678.85,545.26 678.96,540.17 679.07,557.65 679.18,551.47 679.29,552.37 679.40,549.86 679.51,555.98 679.62,544.22 679.73,549.12 679.84,554.99 679.95,554.28 680.06,540.25 680.17,547.60 680.28,553.57 680.39,549.06 680.50,546.72 680.61,537.63 680.72,542.66 680.83,543.87 680.94,552.44 681.05,550.83 681.16,543.79 681.27,556.24 681.38,543.82 681.49,536.05 681.60,552.01 681.71,551.74 681.82,552.61 681.93,545.58 682.04,546.85 682.15,549.71 682.26,540.40 682.37,548.35 682.48,542.69 682.59,541.42 682.70,544.27 682.81,538.35 682.92,547.32 683.03,549.64 683.14,543.39 683.25,542.55 683.36,540.96 683.47,544.25 683.58,548.92 683.69,539.74 683.80,545.39 683.91,556.44 684.02,554.58 684.13,550.14 684.24,548.41 684.35,543.39 684.46,548.40 684.57,551.05 684.68,541.48 684.79,543.48 684.90,549.54 685.01,543.96 685.12,550.13 685.23,552.04 685.34,547.15 685.45,546.55 685.56,551.28 685.67,547.37 685.78,540.50 685.89,546.90 686.00,549.37 686.11,554.61 686.22,555.55 686.33,542.52 686.44,548.90 686.55,551.35 686.66,548.96 686.77,541.16 686.88,553.41 686.99,549.41 687.10,542.27 687.21,538.80 687.32,547.98 687.43,536.69 687.54,540.59 687.65,553.87 687.76,541.92 687.87,552.98 687.98,548.11 688.09,542.08 688.20,559.45 688.31,545.73 688.42,546.79 688.53,553.34 688.64,541.94 688.75,552.83 688.86,546.77 688.97,540.91 689.08,554.41 689.19,550.42 689.30,544.60 689.41,539.91 689.52,552.92 689.63,537.16 689.74,547.96 689.85,537.09 689.96,534.79 690.07,543.15 690.18,552.65 690.29,550.19 690.40,541.76 690.51,552.37 690.62,554.14 690.73,535.23 690.84,549.05 690.95,553.20 691.06,552.58 691.17,545.15 691.28,540.86 691.39,551.80 691.50,545.48 691.61,543.58 691.72,540.08 691.83,555.23 691.94,545.24 692.05,542.92 692.16,541.44 692.27,539.69 692.38,549.34 692.49,553.13 692.60,544.50 692.71,551.90 692.82,548.72 692.93,543.05 693.04,538.16 693.15,535.99 693.26,542.56 693.37,539.06 693.48,535.10 693.59,554.31 693.70,547.75 693.81,546.96 693.92,542.62 694.03,543.64 694.14,541.02 694.25,548.47 694.36,549.70 694.47,558.51 694.58,549.64 694.69,555.84 694.80,541.79 694.91,547.39 695.02,543.52 695.13,547.02 695.24,545.98 695.35,548.03 695.46,546.19 695.57,552.30 695.68,536.73 695.79,544.49 695.90,545.82 696.01,545.69 696.12,542.37 696.23,546.98 696.34,545.67 696.45,542.13 696.56,550.10 696.67,547.93 696.78,546.10 696.89,552.04 697.00,551.84 697.11,549.58 697.22,548.71 697.33,541.13 697.44,542.34 697.55,539.95 697.66,548.47 697.77,542.35 697.88,545.31 697.99,547.91 698.10,551.85 698.21,549.44 698.32,553.76 698.43,554.08 698.54,551.80 698.65,552.90 698.76,555.28 698.87,548.31 698.98,541.44 699.09,555.47 699.20,550.43 699.31,541.18 699.42,536.97 699.53,553.30 699.64,552.60 699.75,551.13 699.86,553.35 699.97,553.57 700.08,537.74 700.19,543.41 700.30,540.90 700.41,546.80 700.52,555.29 700.63,543.04 700.74,542.30 700.85,549.73 700.96,553.45 701.07,544.83 701.18,544.44 701.29,545.25 701.40,537.43 701.51,544.75 701.62,542.25 701.73,545.10 701.84,546.51 701.95,551.34 702.06,544.13 702.17,551.06 702.28,545.27 702.39,548.10 702.50,551.49 702.61,556.58 702.72,552.22 702.83,551.24 702.94,543.91 703.05,546.86 703.16,546.81 703.27,549.20 703.38,548.74 703.49,554.31 703.60,542.79 703.71,548.84 703.82,539.18 703.93,546.26 704.04,541.94 704.15,547.10 704.26,542.16 704.37,544.08 704.48,550.71 704.59,551.79 704.70,550.08 704.81,554.97 704.92,549.13 705.03,537.05 705.14,554.12 705.25,543.17 705.36,549.51 705.47,550.41 705.58,546.15 705.69,546.27 705.80,547.04 705.91,544.94 706.02,548.00 706.13,538.61 706.24,554.11 706.35,544.44 706.46,556.65 706.57,546.16 706.68,547.69 706.79,548.70 706.90,548.01 707.01,548.13 707.12,550.31 707.23,547.25 707.34,542.28 707.45,540.03 707.56,542.03 707.67,548.49 707.78,543.74 707.89,552.60 708.00,537.20 708.11,552.67 708.22,544.21 708.33,546.43 708.44,544.60 708.55,541.19 708.66,550.29 708.77,549.04 708.88,546.02 708.99,546.60 709.10,541.20 709.21,541.98 709.32,539.75 709.43,537.43 709.54,550.36 709.65,550.58 709.76,554.13 709.87,551.69 709.98,545.33 710.09,552.85 710.20,540.06 710.31,538.98 710.42,550.44 710.53,538.84 710.64,541.47 710.75,550.40 710.86,549.22 710.97,549.08 711.08,545.15 711.19,545.24 711.30,551.48 711.41,553.33 711.52,551.13 711.63,546.64 711.74,540.47 711.85,543.99 711.96,542.33 712.07,538.99 712.18,548.26 712.29,551.98 712.40,550.07 712.51,554.28 712.62,547.69 712.73,537.41 712.84,556.51 712.95,543.38 713.06,543.72 713.17,542.57 713.28,540.13 713.39,548.98 713.50,547.11 713.61,551.23 713.72,541.00 713.83,548.63 713.94,546.60 714.05,552.88 714.16,547.93 714.27,545.63 714.38,546.68 714.49,553.12 714.60,540.99 714.71,548.42 714.82,538.23 714.93,544.00 715.04,542.79 715.15,541.29 715.26,544.86 715.37,541.62 715.48,543.22 715.59,550.88 715.70,546.11 715.81,539.62 715.92,542.46 716.03,552.76 716.14,541.09 716.25,541.06 716.36,544.59 716.47,543.66 716.58,556.19 716.69,556.20 716.80,542.20 716.91,547.86 717.02,547.85 717.13,546.17 717.24,549.86 717.35,541.70 717.46,553.71 717.57,546.00 717.68,545.37 717.79,554.13 717.90,542.18 718.01,546.95 718.12,547.43 718.23,555.47 718.34,550.85 718.45,550.23 718.56,540.69 718.67,545.60 718.78,540.16 718.89,543.61 719.00,547.80 719.11,551.02 719.22,540.64 719.33,539.06 719.44,547.72 719.55,554.98 719.66,541.54 719.77,538.39 719.88,551.71 719.99,541.29 720.10,548.39 720.21,542.07 720.32,548.64 720.43,540.11 720.54,543.82 720.65,541.51 720.76,544.73 720.87,552.85 720.98,535.63 721.09,549.82 721.20,541.82 721.31,552.11 721.42,550.65 721.53,557.01 721.64,552.83 721.75,546.79 721.86,554.61 721.97,539.80 722.08,551.69 722.19,540.06 722.30,536.29 722.41,559.03 722.52,559.12 722.63,554.69 722.74,554.60 722.85,546.72 722.96,537.46 723.07,542.00 723.18,547.21 723.29,553.49 723.40,540.31 723.51,544.49 723.62,545.95 723.73,541.33 723.84,544.81 723.95,550.35 724.06,552.29 724.17,540.60 724.28,541.88 724.39,552.40 724.50,547.32 724.61,539.10 724.72,542.97 724.83,539.30 724.94,555.62 725.05,543.09 725.16,554.71 725.27,546.64 725.38,538.39 725.49,548.70 725.60,537.24 725.71,542.45 725.82,553.93 725.93,537.09 726.04,545.96 726.15,551.16 726.26,541.24 726.37,556.24 726.48,549.82 726.59,557.68 726.70,540.74 726.81,540.22 726.92,543.64 727.03,542.63 727.14,546.18 727.25,546.75 727.36,541.25 727.47,554.84 727.58,542.78 727.69,544.36 727.80,542.02 727.91,550.97 728.02,543.10 728.13,548.06 728.24,548.64 728.35,552.93 728.46,548.01 728.57,555.88 728.68,553.79 728.79,547.63 728.90,545.29 729.01,538.57 729.12,540.37 729.23,539.58 729.34,554.30 729.45,548.02 729.56,533.79 729.67,555.33 729.78,544.98 729.89,546.18 730.00,550.63 730.11,550.39 730.22,541.28 730.33,541.59 730.44,544.34 730.55,549.48 730.66,540.71 730.77,544.54 730.88,545.78 730.99,549.39 731.10,552.26 731.21,547.51 731.32,552.69 731.43,547.43 731.54,542.42 731.65,547.59 731.76,554.28 731.87,540.87 731.98,554.07 732.09,542.53 732.20,555.56 732.31,546.68 732.42,546.50 732.53,550.66 732.64,550.35 732.75,543.54 732.86,550.35 732.97,541.62 733.08,541.27 733.19,536.87 733.30,538.25 733.41,553.15 733.52,548.18 733.63,552.18 733.74,540.02 733.85,542.39 733.96,548.19 734.07,541.59 734.18,545.67 734.29,554.90 734.40,548.92 734.51,539.36 734.62,549.49 734.73,543.24 734.84,541.48 734.95,549.96 735.06,549.61 735.17,538.86 735.28,539.98 735.39,542.07 735.50,550.54" fill="none" stroke="#e8687a" stroke-width="1"/></svg>

<!-- RIGHT PANEL 1 -->
<div class="a" style="left:752.5px;top:153px;width:510px;height:351.5px;border:1px solid #e3e6ea;border-radius:4px;background:#fff"></div>
<div class="a" style="left:757px;top:158px;width:505px;height:89px;background:#eef2fa"></div>
<div class="a" style="left:1263px;top:160px;width:1.7px;height:448px;background:#6a6a6a"></div><svg class="a" style="left:1261.5px;top:152px" width="4" height="6" viewBox="0 0 4 6"><path d="M0.5 5.5 L3.2 0.5 L3.5 5.5Z" fill="#777"/></svg>
<!-- time buttons -->
<div class="a" style="left:766.5px;top:170px;width:191.5px;height:20.5px;border:1px solid #dde1e8;border-radius:4px;background:#f4f6fa"></div>
<div class="btn" style="left:863px;top:170px;width:24px;height:20.5px;background:#3b5cb8;color:#fff;font-size:10px;font-weight:bold">1M</div>
<div class="btn" style="left:767px;top:170px;width:29px;height:20.5px;color:#666;font-size:10px;border-right:1px solid #dde1e8">30M</div>
<div class="btn" style="left:796px;top:170px;width:21px;height:20.5px;color:#666;font-size:10px;border-right:1px solid #dde1e8">1H</div>
<div class="btn" style="left:817px;top:170px;width:22.5px;height:20.5px;color:#666;font-size:10px;border-right:1px solid #dde1e8">1D</div>
<div class="btn" style="left:839.5px;top:170px;width:23.5px;height:20.5px;color:#666;font-size:10px">1W</div>
<div class="btn" style="left:887px;top:170px;width:23px;height:20.5px;color:#666;font-size:10px;border-right:1px solid #dde1e8">3M</div>
<div class="btn" style="left:910px;top:170px;width:21px;height:20.5px;color:#666;font-size:10px;border-right:1px solid #dde1e8">1Y</div>
<div class="btn" style="left:931px;top:170px;width:27px;height:20.5px;color:#666;font-size:10px">ALL</div>

<div class="t" style="left:771px;top:208.5px;font-size:9px;color:#555">Start Date</div>
<div class="t" style="left:771px;top:222.5px;font-size:10.8px;color:#3a3a3a;font-weight:bold;letter-spacing:-.2px">29/06.</div>
<svg class="a" style="left:815px;top:220.5px" width="13" height="14" viewBox="0 0 13 14"><path d="M3 0.5 V3 M10 0.5 V3" stroke="#555" stroke-width="1.4"/><rect x="1" y="2" width="11" height="11" rx="1" fill="none" stroke="#555" stroke-width="1.5"/><rect x="1" y="2" width="11" height="3" fill="#555"/><rect x="7" y="8" width="3" height="3" fill="#555"/></svg>
<div class="a" style="left:771px;top:238px;width:55px;height:1.2px;background:#888"></div>
<div class="t" style="left:844.5px;top:208.5px;font-size:9px;color:#555">End Date</div>
<div class="t" style="left:844.5px;top:222.5px;font-size:10.8px;color:#3a3a3a;font-weight:bold;letter-spacing:-.2px">29/07.</div>
<svg class="a" style="left:887.5px;top:220.5px" width="13" height="14" viewBox="0 0 13 14"><path d="M3 0.5 V3 M10 0.5 V3" stroke="#555" stroke-width="1.4"/><rect x="1" y="2" width="11" height="11" rx="1" fill="none" stroke="#555" stroke-width="1.5"/><rect x="1" y="2" width="11" height="3" fill="#555"/><rect x="7" y="8" width="3" height="3" fill="#555"/></svg>
<div class="a" style="left:844.5px;top:238px;width:54px;height:1.2px;background:#888"></div>
<div class="a" style="left:935.5px;top:221px;width:27.5px;height:18px;border-radius:4px;background:#3b5cb8;box-shadow:0 1px 2px rgba(0,0,0,.2)"></div>
<svg class="a" style="left:943px;top:224px" width="12" height="12" viewBox="0 0 12 12"><circle cx="5" cy="5" r="3.3" fill="none" stroke="#fff" stroke-width="1.6"/><path d="M7.5 7.5 L10.5 10.5" stroke="#fff" stroke-width="1.8"/></svg>

<div class="t" style="left:984px;top:175.5px;font-size:9.8px;color:#222;font-weight:bold">Condition for Trend:</div>
<div class="t" style="left:1088.5px;top:175.5px;font-size:9.15px;color:#3a90d0;letter-spacing:.1px">MORE</div>
<div class="t" style="left:984px;top:202px;font-size:10.6px;color:#555">Parameter</div>
<div class="a" style="left:1040px;top:197.5px;width:77.5px;height:17.5px;border:1px solid #c8ccd2;border-radius:4px"></div>
<svg class="a" style="left:1095px;top:204px" width="9" height="5" viewBox="0 0 9 5"><path d="M0 0 H9 L4.5 4.5Z" fill="#555"/></svg>
<div class="t" style="left:984px;top:229px;font-size:10.6px;color:#555">Range</div>
<div class="a" style="left:1040px;top:225px;width:30px;height:17.5px;border:1px solid #c8ccd2;border-radius:4px"></div>
<div class="t" style="left:1075px;top:229px;font-size:10px;color:#555">to</div>
<div class="a" style="left:1087px;top:225px;width:30.5px;height:17.5px;border:1px solid #c8ccd2;border-radius:4px"></div>
<div class="t" style="left:1133px;top:175px;font-size:9px;color:#555">Interval</div>
<div class="t" style="left:1133px;top:189px;font-size:10.4px;color:#333">6 Hour</div>
<svg class="a" style="left:1170.5px;top:192.5px" width="10" height="5" viewBox="0 0 10 5"><path d="M0 0 H10 L5 5Z" fill="#666"/></svg>
<div class="a" style="left:1133px;top:204.5px;width:53px;height:1px;background:#777"></div>
<div class="t" style="left:1203.5px;top:175px;font-size:8.85px;color:#555">Function</div>
<div class="t" style="left:1203.5px;top:189px;font-size:11px;color:#333">Max</div>
<svg class="a" style="left:1229.5px;top:192.5px" width="10" height="5" viewBox="0 0 10 5"><path d="M0 0 H10 L5 5Z" fill="#666"/></svg>
<div class="a" style="left:1203.5px;top:204.5px;width:42px;height:1px;background:#777"></div>
<div class="a" style="left:1129px;top:231px;width:12.5px;height:12.5px;border:1.5px solid #666;border-radius:2px"></div>
<div class="t" style="left:1145px;top:232px;font-size:9.6px;color:#333;font-weight:bold">FFT</div>
<div class="a" style="left:1177px;top:231px;width:12.5px;height:12.5px;border:1.5px solid #666;border-radius:2px"></div>
<div class="t" style="left:1193.5px;top:232px;font-size:9.8px;color:#333;font-weight:bold">ODR</div>
<div class="a" style="left:1228px;top:231px;width:12.5px;height:12.5px;border:1.5px solid #666;border-radius:2px"></div>
<div class="t" style="left:1245px;top:232px;font-size:9.8px;color:#333;font-weight:bold">IC</div>
<div class="circ" style="left:1218.5px;top:157px"></div>
<div class="a" style="left:1221.5px;top:162.7px;width:7px;height:1.8px;background:#fff"></div>
<div class="circ" style="left:1235px;top:157px"></div>
<svg class="a" style="left:1238px;top:160px" width="7" height="7" viewBox="0 0 7 7"><path d="M0.8 4.8 L3.5 1.8 L6.2 4.8Z" fill="#fff"/></svg>
<svg class="a" style="left:1252.5px;top:159px" width="9" height="10" viewBox="0 0 10 10" preserveAspectRatio="none"><path d="M0.8 3.3 V0.8 H3.3 M6.7 0.8 H9.2 V3.3 M9.2 6.7 V9.2 H6.7 M3.3 9.2 H0.8 V6.7" fill="none" stroke="#3b4a7a" stroke-width="1.5"/></svg>

<!-- KPI strip -->
<div class="a" style="left:757px;top:251px;width:505px;height:20.5px;border:1px solid #e3e6ea;border-radius:3px;background:#fff"></div>
<div class="btn" style="left:760px;top:254px;width:96px;height:14.5px;border-radius:4px;background:#62d500;color:#222;font-size:8.8px">Total Acc: <b>&nbsp;3.94 (m/s²)²</b></div>
<div class="btn" style="left:868px;top:254px;width:62.5px;height:14.5px;border-radius:4px;background:#62d500;color:#222;font-size:8.4px">Temp: <b>&nbsp;45.2 °C</b></div>
<div class="btn" style="left:942.5px;top:254px;width:99.5px;height:14.5px;border-radius:4px;background:#62d500;color:#222;font-size:8.8px">Velocity - H: <b>&nbsp;1.13 mm/s</b></div>
<div class="btn" style="left:1054.5px;top:254px;width:100px;height:14.5px;border-radius:4px;background:#62d500;color:#222;font-size:8.8px">Velocity - V: <b>&nbsp;1.34 mm/s</b></div>
<div class="btn" style="left:1166px;top:254px;width:95px;height:14.5px;border-radius:4px;background:#62d500;color:#222;font-size:8.8px">Velocity - A: <b>&nbsp;2.3 mm/s</b></div>

<!-- trend title -->
<div class="t" style="left:758px;top:279px;font-size:12.2px;color:#111"><b>Trend for Measurement Location:</b> <span style="color:#4a6ab5">Bucket elevator 1 (P2) MNDE</span></div>
<div class="btn" style="left:1222.5px;top:276px;width:38.5px;height:18px;border-radius:4px;background:#dfe6ef;color:#333;font-size:10px;padding-left:3px">Axes</div>
<svg class="a" style="left:757px;top:296px" width="505" height="140" viewBox="757 296 505 140"><line x1="952" y1="304.5" x2="1254" y2="304.5" stroke="#e6e6e6" stroke-width="1"/><line x1="952" y1="355.5" x2="1254" y2="355.5" stroke="#e6e6e6" stroke-width="1"/><text x="812" y="308.8" font-size="12" fill="#f0a238" text-anchor="middle" font-family="Liberation Sans">0.4</text><text x="812" y="359.8" font-size="12" fill="#f0a238" text-anchor="middle" font-family="Liberation Sans">0.2</text><text x="816" y="410.8" font-size="12" fill="#f0a238" text-anchor="middle" font-family="Liberation Sans">0</text><text x="879.5" y="308.8" font-size="12" fill="#8ee08e" text-anchor="middle" font-family="Liberation Sans">0.6</text><text x="879.5" y="359.8" font-size="12" fill="#8ee08e" text-anchor="middle" font-family="Liberation Sans">0.3</text><text x="884" y="410.8" font-size="12" fill="#8ee08e" text-anchor="middle" font-family="Liberation Sans">0</text><text x="931" y="308.8" font-size="12" fill="#e06a7a" text-anchor="middle" font-family="Liberation Sans">10</text><text x="934" y="359.8" font-size="12" fill="#e06a7a" text-anchor="middle" font-family="Liberation Sans">5</text><text x="934" y="410.8" font-size="12" fill="#e06a7a" text-anchor="middle" font-family="Liberation Sans">0</text><text x="0" y="0" font-size="12" fill="#f0a238" text-anchor="middle" font-family="Liberation Sans" transform="translate(781.2,355) rotate(-90)">Acceleration RMS</text><text x="0" y="0" font-size="12" fill="#f0a238" text-anchor="middle" font-family="Liberation Sans" transform="translate(794.8000000000001,355) rotate(-90)">in G-s - G-s</text><text x="0" y="0" font-size="12" fill="#8ee08e" text-anchor="middle" font-family="Liberation Sans" transform="translate(849.0,355) rotate(-90)">Shockwave pk-pk -</text><text x="0" y="0" font-size="12" fill="#8ee08e" text-anchor="middle" font-family="Liberation Sans" transform="translate(863.6,355) rotate(-90)">G-s</text><text x="0" y="0" font-size="12" fill="#e06a7a" text-anchor="middle" font-family="Liberation Sans" transform="translate(915.7,355.5) rotate(-90)">Velocity - mm/s</text><polyline points="953.1,404.5 955.8,378.3 958.6,383.9 959.4,404.5 960.4,404.5 964.8,380.5 969.8,377.8 970.6,404.5 971.6,404.5 975.7,384.1 980.3,376.9 981.1,404.5 982.1,404.5 985.8,381.2 989.8,382.8 990.6,404.5 991.6,404.5 996.4,379.5 1001.8,381.9 1002.6,404.5 1003.6,404.5 1007.0,379.8 1010.6,380.5 1011.4,404.5 1012.4,404.5 1016.5,378.1 1021.1,383.3 1021.9,404.5 1022.9,404.5 1027.3,382.6 1032.3,381.0 1033.1,404.5 1034.1,404.5 1038.2,382.9 1042.8,383.4 1043.6,404.5 1044.6,404.5 1048.7,382.0 1053.2,382.7 1054.0,404.5 1055.0,404.5 1058.7,382.6 1062.8,378.5 1063.6,404.5 1064.0,404.5 1140.0,403.5 1145.0,402.0 1150.0,403.5 1188.0,403.5 1188.0,378.0 1189.7,380.6 1190.4,377.7 1191.1,378.5 1191.8,377.9 1192.5,379.9 1193.2,380.0 1193.9,378.0 1194.6,377.5 1195.3,380.8 1196.0,379.6 1196.7,378.8 1197.4,376.9 1198.1,375.9 1198.8,377.0 1199.5,377.3 1200.2,378.3 1200.9,379.5 1201.6,375.6 1202.3,376.5 1203.0,379.1 1203.7,375.8 1204.4,377.1 1205.1,377.7 1205.8,378.4 1206.5,380.0 1207.2,375.6 1207.9,380.3 1208.6,380.5 1209.3,380.2 1210.0,379.1 1210.7,379.8 1211.4,374.9 1212.1,374.1 1212.8,380.4 1213.5,377.5 1214.2,378.8 1214.9,374.7 1215.6,377.6 1216.3,375.3 1217.0,380.9 1217.7,374.4 1218.4,379.4 1219.1,377.6 1219.8,374.1 1220.5,375.3 1221.2,376.8 1221.9,377.6 1222.6,379.6 1223.3,378.4 1224.0,377.5 1224.7,375.8 1225.4,379.4 1226.1,380.3 1226.8,379.4 1227.5,379.1 1228.2,377.3 1228.9,378.5 1229.6,380.6 1230.3,378.6 1231.0,376.7 1231.7,378.9 1232.4,374.2 1233.1,375.8 1233.8,375.4 1234.5,375.8 1235.2,377.6 1235.9,381.0 1236.6,374.5 1237.3,374.3 1238.0,377.3 1238.7,378.3 1239.4,376.9 1240.1,376.6 1240.8,377.9 1241.5,376.1 1242.2,374.3 1242.9,376.7 1243.6,374.4 1244.3,374.5 1245.0,377.3 1245.7,377.7 1246.4,377.3 1247.1,378.2 1247.8,377.2 1248.5,377.7 1249.2,378.7 1249.9,378.1 1250.6,377.7 1251.3,379.1 1252.0,380.2" fill="none" stroke="#e8707e" stroke-width="1.3" opacity="1" stroke-linejoin="round"/><polyline points="952.9,406.5 954.1,345.8 954.8,368.7 955.5,348.5 956.2,320.1 956.9,353.8 957.6,336.1 958.3,350.5 959.0,406.5 959.0,355.7 960.2,406.5 961.4,347.2 962.1,355.1 962.8,334.9 963.5,329.4 964.2,351.2 964.9,330.6 965.6,336.4 966.3,338.6 967.0,329.3 967.7,348.4 968.4,347.4 969.1,365.1 969.8,350.8 970.2,406.5 971.4,406.5 972.6,339.0 973.3,361.7 974.0,345.6 974.7,317.2 975.4,345.0 976.1,370.2 976.8,365.3 977.5,328.0 978.2,337.2 978.9,368.1 979.6,348.7 980.3,371.1 980.7,406.5 981.9,406.5 983.1,339.4 983.8,330.6 984.5,363.1 985.2,316.4 985.9,352.6 986.6,347.7 987.3,336.4 988.0,360.2 988.7,333.8 989.4,356.3 990.1,333.1 990.2,406.5 991.4,406.5 992.6,339.4 993.3,371.5 994.0,337.4 994.7,323.6 995.4,362.0 996.1,342.5 996.8,341.0 997.5,331.2 998.2,332.0 998.9,353.6 999.6,338.7 1000.3,354.5 1001.0,344.4 1001.7,347.9 1002.2,406.5 1003.4,406.5 1004.6,340.8 1005.3,369.8 1006.0,366.8 1006.7,328.9 1007.4,346.5 1008.1,332.6 1008.8,329.7 1009.5,370.4 1010.2,338.5 1010.9,359.0 1011.0,406.5 1012.2,406.5 1013.4,346.6 1014.1,340.3 1014.8,368.4 1015.5,327.3 1016.2,328.7 1016.9,339.8 1017.6,347.6 1018.3,330.7 1019.0,335.8 1019.7,344.2 1020.4,353.2 1021.1,333.8 1021.5,406.5 1022.7,406.5 1023.9,351.5 1024.6,328.9 1025.3,356.0 1026.0,324.6 1026.7,360.1 1027.4,342.0 1028.1,372.0 1028.8,331.3 1029.5,352.0 1030.2,360.4 1030.9,367.6 1031.6,360.4 1032.3,359.0 1032.7,406.5 1033.9,406.5 1035.1,346.2 1035.8,354.8 1036.5,331.5 1037.2,318.9 1037.9,371.7 1038.6,366.7 1039.3,360.0 1040.0,345.1 1040.7,360.3 1041.4,353.6 1042.1,347.4 1042.8,364.9 1043.2,406.5 1044.4,406.5 1045.6,338.2 1046.3,341.2 1047.0,357.8 1047.7,316.6 1048.4,335.5 1049.1,367.9 1049.8,357.0 1050.5,347.4 1051.2,367.2 1051.9,342.4 1052.6,357.3 1053.3,336.7 1053.6,406.5 1054.8,406.5 1056.0,348.0 1056.7,369.8 1057.4,340.2 1058.1,327.3 1058.8,347.8 1059.5,340.1 1060.2,337.4 1060.9,346.2 1061.6,355.5 1062.3,349.7 1063.0,341.9 1063.2,406.5 1064.0,406.5 1188.0,406.5" fill="none" stroke="#4a4a52" stroke-width="1.4" opacity="1" stroke-linejoin="round"/><polyline points="952.8,405.5 958.3,358.3 959.2,405.5 960.1,405.5 969.5,358.5 970.4,405.5 971.3,405.5 980.0,361.6 980.9,405.5 981.8,405.5 989.5,352.5 990.4,405.5 991.3,405.5 1001.5,353.0 1002.4,405.5 1003.3,405.5 1010.3,350.8 1011.2,405.5 1012.1,405.5 1020.8,350.4 1021.7,405.5 1022.6,405.5 1032.0,360.4 1032.9,405.5 1033.8,405.5 1042.5,356.0 1043.4,405.5 1044.3,405.5 1052.9,351.6 1053.8,405.5 1054.7,405.5 1062.5,358.5 1063.4,405.5 1064.0,405.5 1065.0,404.5 1069.0,340.0 1072.5,404.5 1074.0,404.5 1078.0,313.0 1081.5,404.5 1089.0,404.5 1093.0,360.0 1096.5,404.5 1104.0,404.5 1108.0,355.0 1111.5,404.5 1116.0,404.5 1120.0,367.0 1123.5,404.5 1127.0,404.5 1131.0,365.0 1134.5,404.5 1136.0,404.5 1140.0,398.0 1143.5,404.5 1145.0,404.5 1149.0,368.0 1152.5,404.5 1155.0,404.5 1159.0,362.0 1162.5,404.5 1166.0,404.5 1170.0,360.0 1173.5,404.5 1183.0,404.5 1187.0,350.0 1188.0,404.5 1188.0,355.0 1189.7,367.9 1190.4,363.5 1190.5,404.5 1191.1,371.7 1191.8,373.5 1192.5,366.1 1193.2,363.3 1193.9,368.4 1194.6,368.6 1195.3,360.4 1196.0,366.4 1196.7,367.9 1197.4,368.6 1198.1,374.8 1198.8,362.0 1199.5,374.4 1200.2,363.1 1200.9,362.1 1201.6,363.1 1202.3,365.2 1203.0,361.7 1203.7,368.2 1204.4,368.5 1205.1,366.6 1205.8,363.3 1206.5,368.5 1207.2,373.7 1207.9,373.0 1208.6,365.0 1209.3,376.0 1210.0,363.8 1210.7,361.6 1211.4,372.6 1212.1,371.0 1212.8,370.9 1213.5,361.8 1214.2,368.0 1214.9,361.1 1215.6,368.8 1216.3,362.3 1217.0,373.4 1217.7,361.5 1218.4,367.4 1219.1,367.5 1219.8,369.6 1220.5,373.5 1221.2,371.8 1221.9,362.6 1222.6,374.3 1223.3,353.4 1224.0,345.0 1224.7,336.6 1225.4,328.2 1226.1,319.8 1226.8,311.4 1227.5,315.0 1228.2,323.4 1228.9,331.8 1229.6,340.2 1230.3,348.6 1231.0,368.5 1231.7,370.3 1232.4,375.7 1233.1,371.8 1233.8,360.8 1234.5,361.6 1235.2,368.8 1235.9,369.1 1236.6,373.0 1237.3,372.1 1238.0,362.6 1238.7,367.9 1239.4,375.1 1240.1,369.6 1240.8,370.5 1241.5,371.5 1242.2,363.9 1242.9,372.1 1243.6,372.0 1244.3,375.1 1245.0,366.9 1245.7,363.9 1246.4,371.6 1247.1,373.1 1247.8,370.0 1248.5,360.8 1249.2,367.1 1249.9,364.2 1250.6,372.4 1251.3,375.2 1252.0,361.8" fill="none" stroke="#8a2a9a" stroke-width="1.5" opacity="1" stroke-linejoin="round"/><polyline points="951.9,406.5 953.3,406.5 953.9,356.9 955.2,364.2 956.5,369.0 957.8,364.1 959.1,380.6 959.2,406.5 959.2,406.5 960.6,406.5 961.2,354.6 962.5,373.5 963.8,377.2 965.1,372.5 966.4,368.4 967.7,384.9 969.0,384.9 970.3,381.3 970.4,406.5 970.4,406.5 971.8,406.5 972.4,351.0 973.7,363.7 975.0,376.5 976.3,379.9 977.6,368.2 978.9,364.0 980.2,369.6 980.9,406.5 980.9,406.5 982.3,406.5 982.9,351.3 984.2,366.9 985.5,368.2 986.8,384.3 988.1,380.5 989.4,369.0 990.4,406.5 990.4,406.5 990.7,382.4 991.8,406.5 992.4,359.4 993.7,373.1 995.0,375.2 996.3,381.9 997.6,366.2 998.9,365.5 1000.2,382.9 1001.5,380.8 1002.4,406.5 1002.4,406.5 1003.8,406.5 1004.4,348.9 1005.7,380.9 1007.0,375.7 1008.3,368.7 1009.6,366.0 1010.9,378.6 1011.2,406.5 1011.2,406.5 1012.6,406.5 1013.2,350.4 1014.5,382.5 1015.8,384.6 1017.1,377.1 1018.4,377.9 1019.7,375.4 1021.0,365.2 1021.7,406.5 1021.7,406.5 1023.1,406.5 1023.7,356.9 1025.0,383.0 1026.3,370.1 1027.6,377.8 1028.9,382.7 1030.2,382.0 1031.5,371.6 1032.8,380.2 1032.9,406.5 1032.9,406.5 1034.3,406.5 1034.9,346.3 1036.2,379.3 1037.5,362.7 1038.8,375.8 1040.1,373.1 1041.4,367.3 1042.7,378.1 1043.4,406.5 1043.4,406.5 1044.8,406.5 1045.4,351.5 1046.7,380.5 1048.0,383.0 1049.3,382.2 1050.6,370.8 1051.9,375.4 1053.2,369.3 1053.8,406.5 1053.8,406.5 1055.2,406.5 1055.8,357.6 1057.1,384.6 1058.4,372.4 1059.7,363.7 1061.0,362.7 1062.3,382.1 1063.4,406.5 1063.6,363.0 1064.0,405.5 1064.5,405.0 1066.1,345.0 1066.9,347.0 1068.0,405.0 1068.5,405.0 1069.6,332.0 1070.4,334.0 1072.0,405.0 1077.5,405.0 1079.1,330.0 1079.9,332.0 1081.5,405.0 1088.0,405.0 1089.6,322.0 1090.4,324.0 1092.0,405.0 1097.5,405.0 1099.1,326.0 1099.7,405.0 1099.9,328.0 1101.3,333.0 1101.5,405.0 1102.1,335.0 1103.7,405.0 1110.0,405.0 1111.6,325.0 1112.4,327.0 1114.0,405.0 1120.6,405.0 1122.2,340.0 1123.0,342.0 1124.6,405.0 1130.0,405.0 1131.6,343.0 1132.4,345.0 1134.0,405.0 1149.0,405.0 1150.6,338.0 1151.4,340.0 1153.0,405.0 1159.6,405.0 1161.2,340.0 1162.0,342.0 1163.6,405.0 1170.0,405.0 1171.6,323.0 1172.4,325.0 1174.0,405.0 1180.0,405.0 1181.6,333.0 1182.4,335.0 1184.0,405.0 1187.0,405.5 1188.0,345.0 1188.7,360.7 1189.4,319.0 1190.1,325.3 1190.8,342.6 1191.5,405.5 1192.2,405.5 1192.9,319.3 1193.6,362.8 1194.3,330.8 1195.0,325.6 1195.7,320.5 1196.4,352.0 1197.1,342.1 1197.8,352.0 1198.5,405.5 1199.2,405.5 1199.9,353.4 1200.6,361.6 1201.3,369.8 1202.0,355.0 1202.7,328.8 1203.4,343.7 1204.1,327.6 1204.8,318.6 1205.5,343.5 1206.2,356.6 1206.9,327.7 1207.6,332.7 1208.3,336.7 1209.0,355.7 1209.7,346.1 1210.4,351.2 1211.1,358.8 1211.8,339.2 1212.5,360.8 1213.2,366.9 1213.9,322.7 1214.6,405.5 1215.3,405.5 1216.0,368.4 1216.7,357.0 1217.4,325.0 1218.1,342.5 1218.8,351.8 1219.5,367.1 1220.2,338.3 1220.9,348.7 1221.6,365.5 1222.3,361.0 1223.0,369.0 1223.7,343.0 1224.4,353.2 1225.1,329.1 1225.8,357.0 1226.5,362.2 1227.2,405.5 1227.9,405.5 1228.6,405.5 1229.3,358.9 1230.0,362.3 1230.7,339.6 1231.4,370.5 1232.1,374.1 1232.8,374.0 1233.5,354.2 1234.2,365.6 1234.9,344.4 1235.6,370.9 1236.3,368.5 1237.0,345.7 1237.7,333.7 1238.4,349.8 1239.1,354.8 1239.8,364.6 1240.5,405.5 1241.2,405.5 1241.9,351.9 1242.6,331.3 1243.3,366.4 1244.0,332.9 1244.7,366.0 1245.4,337.8 1246.1,345.1 1246.8,365.5 1247.5,336.3 1248.2,336.7 1248.9,353.2 1249.6,362.6 1250.3,405.5 1251.0,405.5 1251.7,405.5 1252.4,367.8 1253.1,361.0" fill="none" stroke="#f5a40a" stroke-width="1.6" opacity="1" stroke-linejoin="round"/><polyline points="1189.7,376.9 1190.4,359.7 1191.1,363.8 1191.8,368.5 1192.5,364.2 1193.2,376.0 1193.9,377.4 1194.6,362.0 1195.3,370.1 1196.0,368.3 1196.7,369.3 1197.4,359.3 1198.1,377.1 1198.8,367.5 1199.5,374.3 1200.2,364.3 1200.9,376.5 1201.6,358.5 1202.3,371.7 1203.0,370.4 1203.7,360.5 1204.4,362.0 1205.1,365.5 1205.8,361.2 1206.5,370.8 1207.2,370.2 1207.9,372.8 1208.6,364.3 1209.3,362.4 1210.0,360.7 1210.7,363.2 1211.4,366.4 1212.1,366.1 1212.8,362.0 1213.5,377.4 1214.2,373.2 1214.9,361.8 1215.6,358.7 1216.3,369.4 1217.0,362.1 1217.7,376.5 1218.4,377.0 1219.1,364.5 1219.8,366.6 1220.5,372.0 1221.2,367.1 1221.9,361.9 1222.6,358.3 1223.3,372.1 1224.0,366.1 1224.7,377.7 1225.4,376.2 1226.1,374.3 1226.8,375.6 1227.5,373.3 1228.2,359.4 1228.9,358.2 1229.6,370.5 1230.3,371.3 1231.0,369.4 1231.7,378.0 1232.4,373.2 1233.1,370.3 1233.8,366.0 1234.5,365.5 1235.2,376.1 1235.9,377.3 1236.6,370.8 1237.3,370.0 1238.0,376.6 1238.7,361.4 1239.4,359.2 1240.1,368.5 1240.8,363.7 1241.5,363.7 1242.2,358.3 1242.9,361.1 1243.6,376.0 1244.3,377.8 1245.0,376.1 1245.7,377.5 1246.4,376.7 1247.1,377.6 1247.8,360.3 1248.5,362.1 1249.2,360.5 1249.9,367.1 1250.6,366.4 1251.3,378.0 1252.0,362.8" fill="none" stroke="#4a4a52" stroke-width="1.2" opacity="0.9" stroke-linejoin="round"/><line x1="1064" y1="404.8" x2="1188" y2="404.8" stroke="#e8a020" stroke-width="2"/><line x1="952" y1="406.5" x2="1254" y2="406.5" stroke="#555" stroke-width="1.3"/><line x1="1090.8" y1="406.5" x2="1090.8" y2="413" stroke="#555" stroke-width="1"/><text x="1090.8" y="430" font-size="9" fill="#333" text-anchor="middle" font-family="Liberation Sans">14 Jul</text><line x1="1234.4" y1="406.5" x2="1234.4" y2="413" stroke="#555" stroke-width="1"/><text x="1234.4" y="430" font-size="9" fill="#333" text-anchor="middle" font-family="Liberation Sans">28 Jul</text><line x1="1235" y1="313" x2="1250.5" y2="313" stroke="#444" stroke-width="2"/><line x1="1235" y1="317.8" x2="1250.5" y2="317.8" stroke="#444" stroke-width="2"/><line x1="1235" y1="322.6" x2="1250.5" y2="322.6" stroke="#444" stroke-width="2"/></svg>

<!-- legend -->
<div class="a" style="left:757px;top:446px;width:500px;height:37px;overflow:hidden">
<div class="a" style="left:9px;top:7px;width:12.5px;height:12.5px;border:1.6px solid #6a6a6a;border-radius:2px"></div>
<div class="t" style="left:26px;top:8.5px;font-size:10px;color:#d0d048;">Temp</div>
<div class="a" style="left:58px;top:7px;width:12.5px;height:12.5px;border:1.6px solid #6a6a6a;border-radius:2px"></div>
<div class="t" style="left:75px;top:8.5px;font-size:10px;color:#4f8a68;">H - Vel</div>
<div class="a" style="left:112.5px;top:7px;width:12.5px;height:12.5px;border:1.6px solid #6a6a6a;border-radius:2px"></div>
<div class="t" style="left:129.5px;top:8.5px;font-size:10px;color:#5a5ac8;">H - Acc(P-P)</div>
<div class="a" style="left:193px;top:7px;width:12.5px;height:12.5px;border:1.6px solid #6a6a6a;border-radius:2px"></div>
<div class="t" style="left:209.5px;top:8.5px;font-size:10px;color:#3ea8a0;">H - Acc(RMS)</div>
<div class="a" style="left:278.5px;top:7px;width:12.5px;height:12.5px;border-radius:2px;background:#1976d2"></div>
<svg class="a" style="left:278.75px;top:7.25px" width="12" height="12" viewBox="0 0 12 12"><path d="M2.3 6.2 L4.9 8.8 L9.8 3.4" fill="none" stroke="#fff" stroke-width="1.7"/></svg>
<div class="t" style="left:295.5px;top:8.5px;font-size:10px;color:#555;">H - SW</div>
<div class="a" style="left:336px;top:7px;width:12.5px;height:12.5px;border:1.6px solid #6a6a6a;border-radius:2px"></div>
<div class="t" style="left:352px;top:8.5px;font-size:10px;color:#8a8a50;">H - SW(RMS)</div>
<div class="a" style="left:421px;top:7px;width:12.5px;height:12.5px;border:1.6px solid #6a6a6a;border-radius:2px"></div>
<div class="t" style="left:437.5px;top:8.5px;font-size:9.2px;color:#222;font-weight:bold;letter-spacing:-.25px">Priority</div>
<div class="a" style="left:9px;top:28.5px;width:12.5px;height:12.5px;border:1.6px solid #6a6a6a;border-radius:2px"></div>
<div class="t" style="left:26px;top:30.0px;font-size:10px;color:#e040e0;">TA</div>
<div class="a" style="left:58px;top:28.5px;width:12.5px;height:12.5px;border-radius:2px;background:#1976d2"></div>
<svg class="a" style="left:58.25px;top:28.75px" width="12" height="12" viewBox="0 0 12 12"><path d="M2.3 6.2 L4.9 8.8 L9.8 3.4" fill="none" stroke="#fff" stroke-width="1.7"/></svg>
<div class="t" style="left:75px;top:30.0px;font-size:10px;color:#e06070;">V - Vel</div>
<div class="a" style="left:112.5px;top:28.5px;width:12.5px;height:12.5px;border:1.6px solid #6a6a6a;border-radius:2px"></div>
<div class="t" style="left:129.5px;top:30.0px;font-size:10px;color:#3ec070;">V - Acc(P-P)</div>
<div class="a" style="left:193px;top:28.5px;width:12.5px;height:12.5px;border-radius:2px;background:#1976d2"></div>
<svg class="a" style="left:193.25px;top:28.75px" width="12" height="12" viewBox="0 0 12 12"><path d="M2.3 6.2 L4.9 8.8 L9.8 3.4" fill="none" stroke="#fff" stroke-width="1.7"/></svg>
<div class="t" style="left:209.5px;top:30.0px;font-size:10px;color:#f0a030;">V - Acc(RMS)</div>
<div class="a" style="left:278.5px;top:28.5px;width:12.5px;height:12.5px;border:1.6px solid #6a6a6a;border-radius:2px"></div>
<div class="t" style="left:295.5px;top:30.0px;font-size:10px;color:#90e890;">V - SW</div>
<div class="a" style="left:336px;top:28.5px;width:12.5px;height:12.5px;border:1.6px solid #6a6a6a;border-radius:2px"></div>
<div class="t" style="left:352px;top:30.0px;font-size:10px;color:#b070e0;">V - SW(RMS)</div>
</div>
<svg class="a" style="left:1255.5px;top:446px" width="7" height="7" viewBox="0 0 7 7"><path d="M0.5 5.5 L3.5 1.5 L6.5 5.5Z" fill="#999"/></svg>
<div class="a" style="left:1257px;top:456px;width:4px;height:9px;border-radius:2px;background:#888"></div>
<svg class="a" style="left:1255.5px;top:474px" width="7" height="7" viewBox="0 0 7 7"><path d="M0.5 1.5 L3.5 5.5 L6.5 1.5Z" fill="#999"/></svg>
<div class="btn" style="left:1210.5px;top:482.5px;width:39.5px;height:15.5px;background:#3b5cb8;color:#fff;font-size:9.25px">Clear All</div>

<!-- SUMMARY PANEL -->
<div class="a" style="left:752.5px;top:506.5px;width:510px;height:140px;border:1px solid #e3e6ea;border-radius:4px;background:#fff"></div>
<div class="t" style="left:763px;top:515px;font-size:11.8px;color:#3a5ab0;font-weight:bold">Summary</div>
<div class="circ" style="left:1218.5px;top:510px"></div>
<div class="a" style="left:1221.5px;top:515.7px;width:7px;height:1.8px;background:#fff"></div>
<div class="circ" style="left:1235px;top:510px"></div>
<svg class="a" style="left:1238px;top:513px" width="7" height="7" viewBox="0 0 7 7"><path d="M0.8 4.8 L3.5 1.8 L6.2 4.8Z" fill="#fff"/></svg>
<svg class="a" style="left:1252.5px;top:512px" width="9" height="10" viewBox="0 0 10 10" preserveAspectRatio="none"><path d="M0.8 3.3 V0.8 H3.3 M6.7 0.8 H9.2 V3.3 M9.2 6.7 V9.2 H6.7 M3.3 9.2 H0.8 V6.7" fill="none" stroke="#3b4a7a" stroke-width="1.5"/></svg>
<div class="t" style="left:762px;top:532.1px;font-size:10.3px;color:#444">Device Identifier:<b style="color:#333"></b></div>
<div class="t" style="left:762px;top:545px;font-size:10.35px;color:#3a5ab0;font-weight:bold">AC:0B:FB:68:AC:92</div>
<div class="t" style="left:762px;top:560.1px;font-size:10.3px;color:#444">Asset Type: <b style="color:#333">Motor - AC Motor</b></div>
<div class="t" style="left:762px;top:574.8px;font-size:10.3px;color:#444">Driven Coupling: <b style="color:#333">DIRECT (NO</b></div>
<div class="t" style="left:762px;top:588.0px;font-size:10.3px;color:#444"><b style="color:#333">COUPLING)</b></div>
<div class="t" style="left:762px;top:602.8px;font-size:10.3px;color:#444">Mounting Conditions: <b style="color:#333">Above</b></div>
<div class="t" style="left:762px;top:615.8px;font-size:10.3px;color:#444"><b style="color:#333">Ground Level</b></div>
<div class="t" style="left:939px;top:532.1px;font-size:10.3px;color:#444">Device Type: <b style="color:#333">vEdge 4.0</b></div>
<div class="t" style="left:939px;top:546.7px;font-size:10.3px;color:#444">Firmware Version: <b style="color:#333">4.0.16</b></div>
<div class="t" style="left:939px;top:561.5px;font-size:10.3px;color:#444">Rotating Speed Type: <b style="color:#333">FIXED</b></div>
<div class="t" style="left:939px;top:576.8px;font-size:10.3px;color:#444">RPM: <b style="color:#333">1500.0</b></div>
<div class="t" style="left:1111px;top:532.3px;font-size:10.3px;color:#444">Bearing 1: <b style="color:#333">FAF 6313</b></div>
<div class="t" style="left:1111px;top:547.1px;font-size:10.3px;color:#444">Bearing 2: <b style="color:#333">N.A</b></div>
<div class="t" style="left:1111px;top:562.0px;font-size:10.3px;color:#444">Bearing 3: <b style="color:#333">N.A</b></div>
<div class="t" style="left:1111px;top:576.9px;font-size:10.3px;color:#444">Lubrication Method: <b style="color:#333">N.A</b></div>
<!-- bottom clip -->
<div class="a" style="left:0;top:632px;width:1280px;height:88px;background:#fff;z-index:50"></div>

</body></html>
